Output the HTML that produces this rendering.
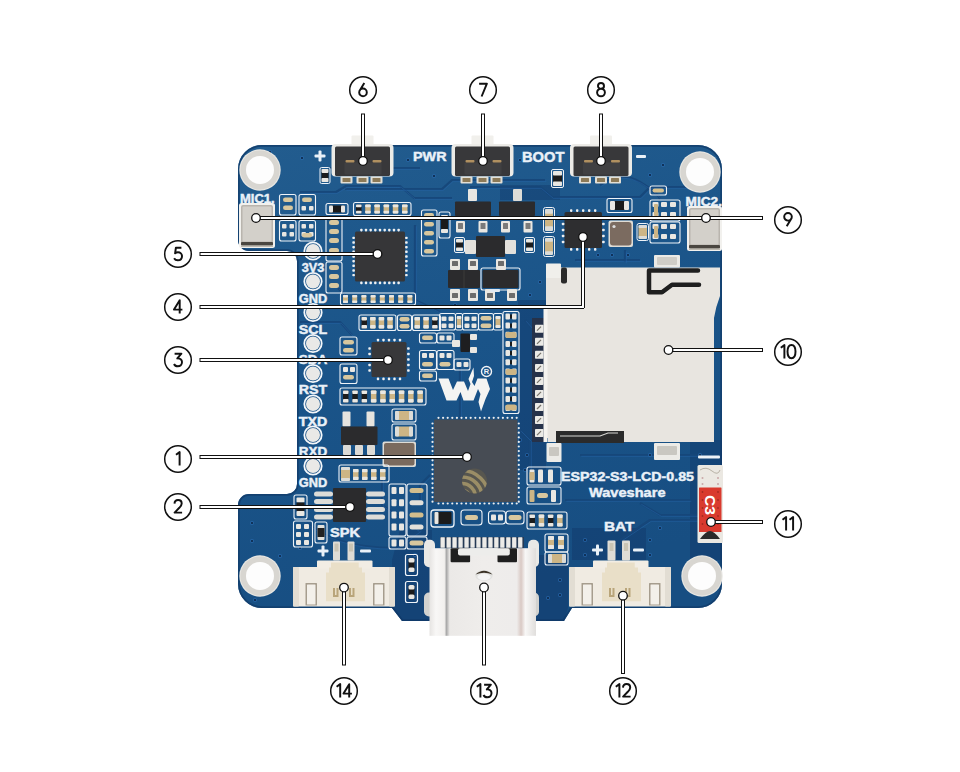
<!DOCTYPE html>
<html><head><meta charset="utf-8">
<style>
html,body{margin:0;padding:0;background:#fff;width:960px;height:772px;overflow:hidden}
svg{display:block;font-family:"Liberation Sans",sans-serif}
</style></head><body>
<svg width="960" height="772" viewBox="0 0 960 772">
<defs>
<linearGradient id="usbg" x1="0" x2="1" y1="0" y2="0">
<stop offset="0" stop-color="#e6e4e2"/><stop offset="0.06" stop-color="#f8f7f6"/><stop offset="0.14" stop-color="#f2f0ee"/><stop offset="0.16" stop-color="#a9a9a9"/><stop offset="0.19" stop-color="#ebe9e7"/><stop offset="0.5" stop-color="#efedeb"/><stop offset="0.82" stop-color="#eeeceb"/><stop offset="0.86" stop-color="#d9c9c4"/><stop offset="0.9" stop-color="#f8f7f6"/><stop offset="1" stop-color="#e0dedc"/>
</linearGradient>
</defs>
<rect width="960" height="772" fill="#fff"/>
<defs><linearGradient id="bgrad" x1="0" y1="0" x2="0.25" y2="1"><stop offset="0" stop-color="#225c8e"/><stop offset="0.5" stop-color="#1a5489"/><stop offset="1" stop-color="#174e82"/></linearGradient></defs>
<path d="M262,145 H698 A24,24 0 0 1 722,169 V584 A24,24 0 0 1 698,608 H572 L564,621 H402 L392,608 H262 A24,24 0 0 1 238,584 V505 A11,11 0 0 1 249,494 H287 A10,10 0 0 0 297,484 V261 A10,10 0 0 0 287,251 H249 A11,11 0 0 1 238,240 V169 A24,24 0 0 1 262,145 Z" fill="url(#bgrad)"/>
<defs><clipPath id="bclip"><path d="M262,145 H698 A24,24 0 0 1 722,169 V584 A24,24 0 0 1 698,608 H572 L564,621 H402 L392,608 H262 A24,24 0 0 1 238,584 V505 A11,11 0 0 1 249,494 H287 A10,10 0 0 0 297,484 V261 A10,10 0 0 0 287,251 H249 A11,11 0 0 1 238,240 V169 A24,24 0 0 1 262,145 Z"/></clipPath></defs>
<path d="M262,145 H698 A24,24 0 0 1 722,169 V584 A24,24 0 0 1 698,608 H572 L564,621 H402 L392,608 H262 A24,24 0 0 1 238,584 V505 A11,11 0 0 1 249,494 H287 A10,10 0 0 0 297,484 V261 A10,10 0 0 0 287,251 H249 A11,11 0 0 1 238,240 V169 A24,24 0 0 1 262,145 Z" fill="none" stroke="#123c6a" stroke-width="3.5" opacity="0.8" clip-path="url(#bclip)"/>
<path d="M518,300 H546 V470 H520 Z" fill="#0f3160" opacity="0.35"/>
<path d="M400,530 H432 V621 H402 L392,608 V560 Z" fill="#0f3160" opacity="0.35"/>
<path d="M536,555 H568 V608 L564,621 H536 Z" fill="#0f3160" opacity="0.35"/>
<path d="M572,528 H646 V560 H572 Z" fill="#0f3160" opacity="0.35"/>
<path d="M690,440 H722 V560 H690 Z" fill="#0f3160" opacity="0.35"/>
<path d="M500,185 H560 V200 H500 Z" fill="#0f3160" opacity="0.35"/>
<path d="M300,192 H336 L346,186 H400 L414,198 H452" fill="none" stroke="#164679" stroke-width="2.2" stroke-linejoin="round" opacity="0.9"/>
<path d="M345,189 H442 L452,180 H545" fill="none" stroke="#164679" stroke-width="2.2" stroke-linejoin="round" opacity="0.9"/>
<path d="M470,187 H540 L552,197 H640 L650,187 H700" fill="none" stroke="#164679" stroke-width="2.2" stroke-linejoin="round" opacity="0.9"/>
<path d="M338,288 L348,298" fill="none" stroke="#164679" stroke-width="2.2" stroke-linejoin="round" opacity="0.9"/>
<path d="M415,225 V300 L440,312" fill="none" stroke="#164679" stroke-width="2.2" stroke-linejoin="round" opacity="0.9"/>
<path d="M300,517 Q330,548 395,548 L420,530" fill="none" stroke="#164679" stroke-width="2.2" stroke-linejoin="round" opacity="0.9"/>
<path d="M525,320 L532,328 V420" fill="none" stroke="#164679" stroke-width="2.2" stroke-linejoin="round" opacity="0.9"/>
<path d="M520,430 L530,440 V470" fill="none" stroke="#164679" stroke-width="2.2" stroke-linejoin="round" opacity="0.9"/>
<path d="M565,500 H690" fill="none" stroke="#164679" stroke-width="2.2" stroke-linejoin="round" opacity="0.9"/>
<path d="M640,503 L660,515 H698" fill="none" stroke="#164679" stroke-width="2.2" stroke-linejoin="round" opacity="0.9"/>
<path d="M382,470 V505 L418,530" fill="none" stroke="#164679" stroke-width="2.2" stroke-linejoin="round" opacity="0.9"/>
<path d="M580,455 H700" fill="none" stroke="#164679" stroke-width="2.2" stroke-linejoin="round" opacity="0.9"/>
<path d="M600,185 Q620,170 640,182 T660,200" fill="none" stroke="#164679" stroke-width="2.2" stroke-linejoin="round" opacity="0.9"/>
<path d="M420,168 H330" fill="none" stroke="#164679" stroke-width="2.2" stroke-linejoin="round" opacity="0.9"/>
<path d="M575,260 H640" fill="none" stroke="#164679" stroke-width="2.2" stroke-linejoin="round" opacity="0.9"/>
<path d="M625,250 V262" fill="none" stroke="#164679" stroke-width="2.2" stroke-linejoin="round" opacity="0.9"/>
<path d="M352,335 L340,322 H300" fill="none" stroke="#164679" stroke-width="2.2" stroke-linejoin="round" opacity="0.9"/>
<path d="M430,475 L420,485 V500" fill="none" stroke="#164679" stroke-width="2.2" stroke-linejoin="round" opacity="0.9"/>
<path d="M460,430 V360" fill="none" stroke="#164679" stroke-width="2.2" stroke-linejoin="round" opacity="0.9"/>
<path d="M620,540 L650,520 H700" fill="none" stroke="#164679" stroke-width="2.2" stroke-linejoin="round" opacity="0.9"/>
<path d="M300,192 H336 L346,186 H400 L414,198 H452" fill="none" stroke="#2565a8" stroke-width="0.8" stroke-linejoin="round" opacity="0.6" transform="translate(1.3,1.3)"/>
<path d="M345,189 H442 L452,180 H545" fill="none" stroke="#2565a8" stroke-width="0.8" stroke-linejoin="round" opacity="0.6" transform="translate(1.3,1.3)"/>
<path d="M470,187 H540 L552,197 H640 L650,187 H700" fill="none" stroke="#2565a8" stroke-width="0.8" stroke-linejoin="round" opacity="0.6" transform="translate(1.3,1.3)"/>
<path d="M338,288 L348,298" fill="none" stroke="#2565a8" stroke-width="0.8" stroke-linejoin="round" opacity="0.6" transform="translate(1.3,1.3)"/>
<path d="M415,225 V300 L440,312" fill="none" stroke="#2565a8" stroke-width="0.8" stroke-linejoin="round" opacity="0.6" transform="translate(1.3,1.3)"/>
<path d="M300,517 Q330,548 395,548 L420,530" fill="none" stroke="#2565a8" stroke-width="0.8" stroke-linejoin="round" opacity="0.6" transform="translate(1.3,1.3)"/>
<path d="M525,320 L532,328 V420" fill="none" stroke="#2565a8" stroke-width="0.8" stroke-linejoin="round" opacity="0.6" transform="translate(1.3,1.3)"/>
<path d="M520,430 L530,440 V470" fill="none" stroke="#2565a8" stroke-width="0.8" stroke-linejoin="round" opacity="0.6" transform="translate(1.3,1.3)"/>
<path d="M565,500 H690" fill="none" stroke="#2565a8" stroke-width="0.8" stroke-linejoin="round" opacity="0.6" transform="translate(1.3,1.3)"/>
<path d="M640,503 L660,515 H698" fill="none" stroke="#2565a8" stroke-width="0.8" stroke-linejoin="round" opacity="0.6" transform="translate(1.3,1.3)"/>
<path d="M382,470 V505 L418,530" fill="none" stroke="#2565a8" stroke-width="0.8" stroke-linejoin="round" opacity="0.6" transform="translate(1.3,1.3)"/>
<path d="M580,455 H700" fill="none" stroke="#2565a8" stroke-width="0.8" stroke-linejoin="round" opacity="0.6" transform="translate(1.3,1.3)"/>
<path d="M600,185 Q620,170 640,182 T660,200" fill="none" stroke="#2565a8" stroke-width="0.8" stroke-linejoin="round" opacity="0.6" transform="translate(1.3,1.3)"/>
<path d="M420,168 H330" fill="none" stroke="#2565a8" stroke-width="0.8" stroke-linejoin="round" opacity="0.6" transform="translate(1.3,1.3)"/>
<path d="M575,260 H640" fill="none" stroke="#2565a8" stroke-width="0.8" stroke-linejoin="round" opacity="0.6" transform="translate(1.3,1.3)"/>
<path d="M625,250 V262" fill="none" stroke="#2565a8" stroke-width="0.8" stroke-linejoin="round" opacity="0.6" transform="translate(1.3,1.3)"/>
<path d="M352,335 L340,322 H300" fill="none" stroke="#2565a8" stroke-width="0.8" stroke-linejoin="round" opacity="0.6" transform="translate(1.3,1.3)"/>
<path d="M430,475 L420,485 V500" fill="none" stroke="#2565a8" stroke-width="0.8" stroke-linejoin="round" opacity="0.6" transform="translate(1.3,1.3)"/>
<path d="M460,430 V360" fill="none" stroke="#2565a8" stroke-width="0.8" stroke-linejoin="round" opacity="0.6" transform="translate(1.3,1.3)"/>
<path d="M620,540 L650,520 H700" fill="none" stroke="#2565a8" stroke-width="0.8" stroke-linejoin="round" opacity="0.6" transform="translate(1.3,1.3)"/>
<circle cx="252" cy="523" r="2" fill="#2b6cb0" opacity="0.7"/><circle cx="252" cy="523" r="1.1" fill="#0c2748"/>
<circle cx="252" cy="541" r="2" fill="#2b6cb0" opacity="0.7"/><circle cx="252" cy="541" r="1.1" fill="#0c2748"/>
<circle cx="270" cy="152" r="2" fill="#2b6cb0" opacity="0.7"/><circle cx="270" cy="152" r="1.1" fill="#0c2748"/>
<circle cx="302" cy="158" r="2" fill="#2b6cb0" opacity="0.7"/><circle cx="302" cy="158" r="1.1" fill="#0c2748"/>
<circle cx="408" cy="160" r="2" fill="#2b6cb0" opacity="0.7"/><circle cx="408" cy="160" r="1.1" fill="#0c2748"/>
<circle cx="434" cy="176" r="2" fill="#2b6cb0" opacity="0.7"/><circle cx="434" cy="176" r="1.1" fill="#0c2748"/>
<circle cx="520" cy="160" r="2" fill="#2b6cb0" opacity="0.7"/><circle cx="520" cy="160" r="1.1" fill="#0c2748"/>
<circle cx="650" cy="175" r="2" fill="#2b6cb0" opacity="0.7"/><circle cx="650" cy="175" r="1.1" fill="#0c2748"/>
<circle cx="663" cy="165" r="2" fill="#2b6cb0" opacity="0.7"/><circle cx="663" cy="165" r="1.1" fill="#0c2748"/>
<circle cx="598" cy="255" r="2" fill="#2b6cb0" opacity="0.7"/><circle cx="598" cy="255" r="1.1" fill="#0c2748"/>
<circle cx="612" cy="255" r="2" fill="#2b6cb0" opacity="0.7"/><circle cx="612" cy="255" r="1.1" fill="#0c2748"/>
<circle cx="628" cy="255" r="2" fill="#2b6cb0" opacity="0.7"/><circle cx="628" cy="255" r="1.1" fill="#0c2748"/>
<circle cx="530" cy="295" r="2" fill="#2b6cb0" opacity="0.7"/><circle cx="530" cy="295" r="1.1" fill="#0c2748"/>
<circle cx="540" cy="282" r="2" fill="#2b6cb0" opacity="0.7"/><circle cx="540" cy="282" r="1.1" fill="#0c2748"/>
<circle cx="520" cy="440" r="2" fill="#2b6cb0" opacity="0.7"/><circle cx="520" cy="440" r="1.1" fill="#0c2748"/>
<circle cx="527" cy="455" r="2" fill="#2b6cb0" opacity="0.7"/><circle cx="527" cy="455" r="1.1" fill="#0c2748"/>
<circle cx="525" cy="470" r="2" fill="#2b6cb0" opacity="0.7"/><circle cx="525" cy="470" r="1.1" fill="#0c2748"/>
<circle cx="650" cy="455" r="2" fill="#2b6cb0" opacity="0.7"/><circle cx="650" cy="455" r="1.1" fill="#0c2748"/>
<circle cx="700" cy="455" r="2" fill="#2b6cb0" opacity="0.7"/><circle cx="700" cy="455" r="1.1" fill="#0c2748"/>
<circle cx="255" cy="600" r="2" fill="#2b6cb0" opacity="0.7"/><circle cx="255" cy="600" r="1.1" fill="#0c2748"/>
<circle cx="300" cy="548" r="2" fill="#2b6cb0" opacity="0.7"/><circle cx="300" cy="548" r="1.1" fill="#0c2748"/>
<circle cx="280" cy="556" r="2" fill="#2b6cb0" opacity="0.7"/><circle cx="280" cy="556" r="1.1" fill="#0c2748"/>
<circle cx="415" cy="555" r="2" fill="#2b6cb0" opacity="0.7"/><circle cx="415" cy="555" r="1.1" fill="#0c2748"/>
<circle cx="548" cy="598" r="2" fill="#2b6cb0" opacity="0.7"/><circle cx="548" cy="598" r="1.1" fill="#0c2748"/>
<circle cx="560" cy="580" r="2" fill="#2b6cb0" opacity="0.7"/><circle cx="560" cy="580" r="1.1" fill="#0c2748"/>
<circle cx="560" cy="595" r="2" fill="#2b6cb0" opacity="0.7"/><circle cx="560" cy="595" r="1.1" fill="#0c2748"/>
<circle cx="585" cy="540" r="2" fill="#2b6cb0" opacity="0.7"/><circle cx="585" cy="540" r="1.1" fill="#0c2748"/>
<circle cx="585" cy="555" r="2" fill="#2b6cb0" opacity="0.7"/><circle cx="585" cy="555" r="1.1" fill="#0c2748"/>
<circle cx="650" cy="540" r="2" fill="#2b6cb0" opacity="0.7"/><circle cx="650" cy="540" r="1.1" fill="#0c2748"/>
<circle cx="650" cy="555" r="2" fill="#2b6cb0" opacity="0.7"/><circle cx="650" cy="555" r="1.1" fill="#0c2748"/>
<circle cx="660" cy="528" r="2" fill="#2b6cb0" opacity="0.7"/><circle cx="660" cy="528" r="1.1" fill="#0c2748"/>
<circle cx="455" cy="305" r="2" fill="#2b6cb0" opacity="0.7"/><circle cx="455" cy="305" r="1.1" fill="#0c2748"/>
<circle cx="483" cy="308" r="2" fill="#2b6cb0" opacity="0.7"/><circle cx="483" cy="308" r="1.1" fill="#0c2748"/>
<circle cx="640" cy="300" r="2" fill="#2b6cb0" opacity="0.7"/><circle cx="640" cy="300" r="1.1" fill="#0c2748"/>
<circle cx="260" cy="170" r="20.7" fill="#e8e7e3"/>
<circle cx="260" cy="170" r="19.6" fill="#d8d6d1"/>
<circle cx="260" cy="170" r="14" fill="#fdfdfd"/>
<circle cx="700" cy="172" r="20.7" fill="#e8e7e3"/>
<circle cx="700" cy="172" r="19.6" fill="#d8d6d1"/>
<circle cx="700" cy="172" r="14" fill="#fdfdfd"/>
<circle cx="260" cy="576" r="20.7" fill="#e8e7e3"/>
<circle cx="260" cy="576" r="19.6" fill="#d8d6d1"/>
<circle cx="260" cy="576" r="14" fill="#fdfdfd"/>
<circle cx="702" cy="576" r="20.7" fill="#e8e7e3"/>
<circle cx="702" cy="576" r="19.6" fill="#d8d6d1"/>
<circle cx="702" cy="576" r="14" fill="#fdfdfd"/>
<circle cx="313" cy="251" r="8.7" fill="none" stroke="#f4f7fa" stroke-width="1.8"/>
<circle cx="313" cy="251" r="7" fill="#e9e9e7"/>
<circle cx="313" cy="281.5" r="8.7" fill="none" stroke="#f4f7fa" stroke-width="1.8"/>
<circle cx="313" cy="281.5" r="7" fill="#e9e9e7"/>
<circle cx="313" cy="312.5" r="8.7" fill="none" stroke="#f4f7fa" stroke-width="1.8"/>
<circle cx="313" cy="312.5" r="7" fill="#e9e9e7"/>
<circle cx="313" cy="343.5" r="8.7" fill="none" stroke="#f4f7fa" stroke-width="1.8"/>
<circle cx="313" cy="343.5" r="7" fill="#e9e9e7"/>
<circle cx="313" cy="373.5" r="8.7" fill="none" stroke="#f4f7fa" stroke-width="1.8"/>
<circle cx="313" cy="373.5" r="7" fill="#e9e9e7"/>
<circle cx="313" cy="404" r="8.7" fill="none" stroke="#f4f7fa" stroke-width="1.8"/>
<circle cx="313" cy="404" r="7" fill="#e9e9e7"/>
<circle cx="313" cy="435" r="8.7" fill="none" stroke="#f4f7fa" stroke-width="1.8"/>
<circle cx="313" cy="435" r="7" fill="#e9e9e7"/>
<circle cx="313" cy="466" r="8.7" fill="none" stroke="#f4f7fa" stroke-width="1.8"/>
<circle cx="313" cy="466" r="7" fill="#e9e9e7"/>
<text x="313" y="271.5" font-size="12.3" font-weight="bold" fill="#eaf1f8" stroke="#eaf1f8" stroke-width="0.45" text-anchor="middle" textLength="22.5" lengthAdjust="spacingAndGlyphs">3V3</text>
<text x="313" y="302.5" font-size="12.3" font-weight="bold" fill="#eaf1f8" stroke="#eaf1f8" stroke-width="0.45" text-anchor="middle" textLength="28.5" lengthAdjust="spacingAndGlyphs">GND</text>
<text x="313" y="333.5" font-size="12.3" font-weight="bold" fill="#eaf1f8" stroke="#eaf1f8" stroke-width="0.45" text-anchor="middle" textLength="28.5" lengthAdjust="spacingAndGlyphs">SCL</text>
<text x="313" y="364" font-size="12.3" font-weight="bold" fill="#eaf1f8" stroke="#eaf1f8" stroke-width="0.45" text-anchor="middle" textLength="28.5" lengthAdjust="spacingAndGlyphs">SDA</text>
<text x="313" y="394" font-size="12.3" font-weight="bold" fill="#eaf1f8" stroke="#eaf1f8" stroke-width="0.45" text-anchor="middle" textLength="28.5" lengthAdjust="spacingAndGlyphs">RST</text>
<text x="313" y="425.5" font-size="12.3" font-weight="bold" fill="#eaf1f8" stroke="#eaf1f8" stroke-width="0.45" text-anchor="middle" textLength="28.5" lengthAdjust="spacingAndGlyphs">TXD</text>
<text x="313" y="456" font-size="12.3" font-weight="bold" fill="#eaf1f8" stroke="#eaf1f8" stroke-width="0.45" text-anchor="middle" textLength="28.5" lengthAdjust="spacingAndGlyphs">RXD</text>
<text x="313" y="486.5" font-size="12.3" font-weight="bold" fill="#eaf1f8" stroke="#eaf1f8" stroke-width="0.45" text-anchor="middle" textLength="28.5" lengthAdjust="spacingAndGlyphs">GND</text>
<text x="240" y="202.5" font-size="13" font-weight="bold" fill="#eaf1f8" stroke="#eaf1f8" stroke-width="0.45" text-anchor="start" >MIC1.</text>
<text x="685.5" y="205.5" font-size="12" font-weight="bold" fill="#eaf1f8" stroke="#eaf1f8" stroke-width="0.45" text-anchor="start" textLength="36.5" lengthAdjust="spacingAndGlyphs">MIC2.</text>
<text x="413" y="161" font-size="13.5" font-weight="bold" fill="#eaf1f8" stroke="#eaf1f8" stroke-width="0.45" text-anchor="start" textLength="33.5" lengthAdjust="spacingAndGlyphs">PWR</text>
<text x="522" y="161.5" font-size="14" font-weight="bold" fill="#eaf1f8" stroke="#eaf1f8" stroke-width="0.45" text-anchor="start" textLength="42.5" lengthAdjust="spacingAndGlyphs">BOOT</text>
<text x="330" y="537" font-size="13.3" font-weight="bold" fill="#eaf1f8" stroke="#eaf1f8" stroke-width="0.45" text-anchor="start" textLength="30" lengthAdjust="spacingAndGlyphs">SPK</text>
<text x="604" y="530.5" font-size="13.3" font-weight="bold" fill="#eaf1f8" stroke="#eaf1f8" stroke-width="0.45" text-anchor="start" textLength="30.5" lengthAdjust="spacingAndGlyphs">BAT</text>
<text x="561" y="481.3" font-size="12.6" font-weight="bold" fill="#eaf1f8" stroke="#eaf1f8" stroke-width="0.45" text-anchor="start" textLength="133" lengthAdjust="spacingAndGlyphs">ESP32-S3-LCD-0.85</text>
<text x="589" y="497.3" font-size="13.5" font-weight="bold" fill="#eaf1f8" stroke="#eaf1f8" stroke-width="0.45" text-anchor="start" textLength="76.5" lengthAdjust="spacingAndGlyphs">Waveshare</text>
<rect x="314.5" y="154.5" width="11.0" height="3.0" rx="1" fill="#eaf1f8" />
<rect x="318.5" y="150.5" width="3.0" height="11.0" rx="1" fill="#eaf1f8" />
<rect x="636.0" y="155.0" width="10.0" height="3.0" rx="1" fill="#eaf1f8" />
<rect x="317.5" y="549.5" width="11.0" height="3.0" rx="1" fill="#eaf1f8" />
<rect x="321.5" y="545.5" width="3.0" height="11.0" rx="1" fill="#eaf1f8" />
<rect x="360.0" y="549.5" width="11.0" height="3.0" rx="1" fill="#eaf1f8" />
<rect x="592.0" y="548.5" width="11.0" height="3.0" rx="1" fill="#eaf1f8" />
<rect x="596.0" y="544.5" width="3.0" height="11.0" rx="1" fill="#eaf1f8" />
<rect x="633.0" y="548.5" width="11.0" height="3.0" rx="1" fill="#eaf1f8" />
<rect x="351.5" y="135.5" width="22.0" height="10.0" rx="1" fill="#f1f0ec" />
<rect x="331.5" y="144.0" width="62.0" height="32.5" rx="4" fill="#ecebe7" />
<rect x="335.0" y="146.5" width="55.0" height="29.5" rx="1.5" fill="#38383a" />
<rect x="344.5" y="162.5" width="37.0" height="12.0" rx="1" fill="#404042" />
<rect x="345.5" y="160.0" width="9.0" height="2.5" rx="1" fill="#b09060" />
<rect x="372.5" y="160.0" width="9.0" height="2.5" rx="1" fill="#b09060" />
<rect x="340.5" y="176.5" width="12.0" height="7.0" rx="1" fill="#e2dfd6" />
<rect x="342.5" y="178.0" width="8.0" height="4.0" rx="0.5" fill="#8c7a58" />
<rect x="356.5" y="176.5" width="12.0" height="7.0" rx="1" fill="#e2dfd6" />
<rect x="358.5" y="178.0" width="8.0" height="4.0" rx="0.5" fill="#8c7a58" />
<rect x="370.5" y="176.5" width="12.0" height="7.0" rx="1" fill="#e2dfd6" />
<rect x="372.5" y="178.0" width="8.0" height="4.0" rx="0.5" fill="#8c7a58" />
<rect x="471.5" y="135.5" width="22.0" height="10.0" rx="1" fill="#f1f0ec" />
<rect x="451.5" y="144.0" width="62.0" height="32.5" rx="4" fill="#ecebe7" />
<rect x="455.0" y="146.5" width="55.0" height="29.5" rx="1.5" fill="#38383a" />
<rect x="464.5" y="162.5" width="37.0" height="12.0" rx="1" fill="#404042" />
<rect x="465.5" y="160.0" width="9.0" height="2.5" rx="1" fill="#b09060" />
<rect x="492.5" y="160.0" width="9.0" height="2.5" rx="1" fill="#b09060" />
<rect x="460.5" y="176.5" width="12.0" height="7.0" rx="1" fill="#e2dfd6" />
<rect x="462.5" y="178.0" width="8.0" height="4.0" rx="0.5" fill="#8c7a58" />
<rect x="476.5" y="176.5" width="12.0" height="7.0" rx="1" fill="#e2dfd6" />
<rect x="478.5" y="178.0" width="8.0" height="4.0" rx="0.5" fill="#8c7a58" />
<rect x="490.5" y="176.5" width="12.0" height="7.0" rx="1" fill="#e2dfd6" />
<rect x="492.5" y="178.0" width="8.0" height="4.0" rx="0.5" fill="#8c7a58" />
<rect x="590.0" y="135.5" width="22.0" height="10.0" rx="1" fill="#f1f0ec" />
<rect x="570.0" y="144.0" width="62.0" height="32.5" rx="4" fill="#ecebe7" />
<rect x="573.5" y="146.5" width="55.0" height="29.5" rx="1.5" fill="#38383a" />
<rect x="583.0" y="162.5" width="37.0" height="12.0" rx="1" fill="#404042" />
<rect x="584.0" y="160.0" width="9.0" height="2.5" rx="1" fill="#b09060" />
<rect x="611.0" y="160.0" width="9.0" height="2.5" rx="1" fill="#b09060" />
<rect x="579.0" y="176.5" width="12.0" height="7.0" rx="1" fill="#e2dfd6" />
<rect x="581.0" y="178.0" width="8.0" height="4.0" rx="0.5" fill="#8c7a58" />
<rect x="595.0" y="176.5" width="12.0" height="7.0" rx="1" fill="#e2dfd6" />
<rect x="597.0" y="178.0" width="8.0" height="4.0" rx="0.5" fill="#8c7a58" />
<rect x="609.0" y="176.5" width="12.0" height="7.0" rx="1" fill="#e2dfd6" />
<rect x="611.0" y="178.0" width="8.0" height="4.0" rx="0.5" fill="#8c7a58" />
<rect x="239.0" y="203.0" width="36.0" height="45.0" rx="2.5" fill="#f2f1ee" />
<rect x="241.0" y="205.0" width="32.0" height="41.0" rx="2" fill="#b9b5ae" />
<rect x="242.5" y="206.5" width="29.0" height="35.0" rx="1" fill="#d3d0ca" />
<rect x="241.0" y="242.0" width="32.0" height="3.5" rx="1" fill="#4a4640" />
<rect x="241.0" y="245.5" width="32.0" height="1.5" rx="0.5" fill="#bdb9b0" />
<rect x="687.0" y="206.0" width="35.0" height="45.0" rx="2.5" fill="#f2f1ee" />
<rect x="689.0" y="208.0" width="31.0" height="41.0" rx="2" fill="#b9b5ae" />
<rect x="690.5" y="209.5" width="28.0" height="35.0" rx="1" fill="#d3d0ca" />
<rect x="689.0" y="245.0" width="31.0" height="3.5" rx="1" fill="#4a4640" />
<rect x="689.0" y="248.5" width="31.0" height="1.5" rx="0.5" fill="#bdb9b0" />
<rect x="320.0" y="167.5" width="10.0" height="16.0" rx="1.5" fill="none" stroke="#eef3f8" stroke-width="1"/>
<rect x="321.5" y="169.0" width="7.0" height="13.0" rx="1" fill="#1c1c1c" />
<rect x="321.5" y="169.0" width="7.0" height="3.9" rx="0.8" fill="#e9e7e2" />
<rect x="321.5" y="178.1" width="7.0" height="3.9" rx="0.8" fill="#e9e7e2" />
<rect x="279.5" y="194.5" width="16.5" height="20.5" rx="2" fill="none" stroke="#eef3f8" stroke-width="1.1"/>
<rect x="279.5" y="220.5" width="16.5" height="20.5" rx="2" fill="none" stroke="#eef3f8" stroke-width="1.1"/>
<rect x="299.0" y="194.5" width="16.5" height="20.5" rx="2" fill="none" stroke="#eef3f8" stroke-width="1.1"/>
<rect x="299.0" y="220.5" width="16.5" height="20.5" rx="2" fill="none" stroke="#eef3f8" stroke-width="1.1"/>
<rect x="283.0" y="197.5" width="10.0" height="4.5" rx="2.25" fill="#d8c79e" />
<rect x="283.0" y="205.5" width="10.0" height="4.5" rx="2.25" fill="#d8c79e" />
<rect x="302.0" y="197.5" width="10.0" height="4.5" rx="2.25" fill="#d8c79e" />
<rect x="301.5" y="206.0" width="4.5" height="4.5" rx="1" fill="#e9e7e2" />
<rect x="309.0" y="206.0" width="4.5" height="4.5" rx="1" fill="#e9e7e2" />
<rect x="282.0" y="224.0" width="4.5" height="4.5" rx="1" fill="#e9e7e2" />
<rect x="289.5" y="224.0" width="4.5" height="4.5" rx="1" fill="#e9e7e2" />
<rect x="282.0" y="232.0" width="4.5" height="4.5" rx="1" fill="#e9e7e2" />
<rect x="289.5" y="232.0" width="4.5" height="4.5" rx="1" fill="#e9e7e2" />
<rect x="301.5" y="224.0" width="4.5" height="4.5" rx="1" fill="#e9e7e2" />
<rect x="309.0" y="224.0" width="4.5" height="4.5" rx="1" fill="#e9e7e2" />
<rect x="301.5" y="232.0" width="4.5" height="4.5" rx="1" fill="#e9e7e2" />
<rect x="309.0" y="232.0" width="4.5" height="4.5" rx="1" fill="#e9e7e2" />
<rect x="302.0" y="233.0" width="10.0" height="4.5" rx="2.25" fill="#d8c79e" />
<rect x="326.0" y="203.5" width="22.0" height="11.0" rx="2" fill="none" stroke="#eef3f8" stroke-width="1.1"/>
<rect x="329.0" y="205.5" width="16.0" height="7.0" rx="1" fill="#1a1a1a" />
<rect x="329.0" y="205.5" width="4.0" height="7.0" rx="1" fill="#e9e7e2" />
<rect x="341.0" y="205.5" width="4.0" height="7.0" rx="1" fill="#e9e7e2" />
<rect x="326.0" y="217.0" width="16.0" height="44.0" rx="2" fill="none" stroke="#eef3f8" stroke-width="1.1"/>
<rect x="329.0" y="220.0" width="10.0" height="5.0" rx="2.5" fill="#d8c79e" />
<rect x="329.0" y="229.0" width="10.0" height="5.0" rx="2.5" fill="#d8c79e" />
<rect x="329.0" y="238.0" width="10.0" height="5.0" rx="2.5" fill="#d8c79e" />
<rect x="329.0" y="248.0" width="10.0" height="5.0" rx="2.5" fill="#d8c79e" />
<rect x="353.5" y="202.5" width="57.5" height="13.0" rx="2" fill="none" stroke="#eef3f8" stroke-width="1.1"/>
<rect x="356.0" y="204.5" width="5.5" height="9.0" rx="1" fill="#1a1a1a" />
<rect x="356.0" y="204.5" width="5.5" height="2.7" rx="0.8" fill="#e9e7e2" />
<rect x="356.0" y="210.8" width="5.5" height="2.7" rx="0.8" fill="#e9e7e2" />
<rect x="365.2" y="204.5" width="5.5" height="9.0" rx="1" fill="#cdb585" />
<rect x="365.2" y="204.5" width="5.5" height="2.7" rx="0.8" fill="#e9e7e2" />
<rect x="365.2" y="210.8" width="5.5" height="2.7" rx="0.8" fill="#e9e7e2" />
<rect x="374.4" y="204.5" width="5.5" height="9.0" rx="1" fill="#cdb585" />
<rect x="374.4" y="204.5" width="5.5" height="2.7" rx="0.8" fill="#e9e7e2" />
<rect x="374.4" y="210.8" width="5.5" height="2.7" rx="0.8" fill="#e9e7e2" />
<rect x="383.6" y="204.5" width="5.5" height="9.0" rx="1" fill="#cdb585" />
<rect x="383.6" y="204.5" width="5.5" height="2.7" rx="0.8" fill="#e9e7e2" />
<rect x="383.6" y="210.8" width="5.5" height="2.7" rx="0.8" fill="#e9e7e2" />
<rect x="392.8" y="204.5" width="5.5" height="9.0" rx="1" fill="#cdb585" />
<rect x="392.8" y="204.5" width="5.5" height="2.7" rx="0.8" fill="#e9e7e2" />
<rect x="392.8" y="210.8" width="5.5" height="2.7" rx="0.8" fill="#e9e7e2" />
<rect x="402.0" y="204.5" width="5.5" height="9.0" rx="1" fill="#cdb585" />
<rect x="402.0" y="204.5" width="5.5" height="2.7" rx="0.8" fill="#e9e7e2" />
<rect x="402.0" y="210.8" width="5.5" height="2.7" rx="0.8" fill="#e9e7e2" />
<rect x="355.0" y="231.5" width="50.0" height="50.0" rx="1.5" fill="#363638" />
<rect x="360.2" y="228.8" width="2.4" height="2.6" rx="0.8" fill="#f0f0f0"/>
<rect x="360.2" y="281.6" width="2.4" height="2.6" rx="0.8" fill="#f0f0f0"/>
<rect x="364.8" y="228.8" width="2.4" height="2.6" rx="0.8" fill="#f0f0f0"/>
<rect x="364.8" y="281.6" width="2.4" height="2.6" rx="0.8" fill="#f0f0f0"/>
<rect x="369.5" y="228.8" width="2.4" height="2.6" rx="0.8" fill="#f0f0f0"/>
<rect x="369.5" y="281.6" width="2.4" height="2.6" rx="0.8" fill="#f0f0f0"/>
<rect x="374.1" y="228.8" width="2.4" height="2.6" rx="0.8" fill="#f0f0f0"/>
<rect x="374.1" y="281.6" width="2.4" height="2.6" rx="0.8" fill="#f0f0f0"/>
<rect x="378.8" y="228.8" width="2.4" height="2.6" rx="0.8" fill="#f0f0f0"/>
<rect x="378.8" y="281.6" width="2.4" height="2.6" rx="0.8" fill="#f0f0f0"/>
<rect x="383.5" y="228.8" width="2.4" height="2.6" rx="0.8" fill="#f0f0f0"/>
<rect x="383.5" y="281.6" width="2.4" height="2.6" rx="0.8" fill="#f0f0f0"/>
<rect x="388.1" y="228.8" width="2.4" height="2.6" rx="0.8" fill="#f0f0f0"/>
<rect x="388.1" y="281.6" width="2.4" height="2.6" rx="0.8" fill="#f0f0f0"/>
<rect x="392.8" y="228.8" width="2.4" height="2.6" rx="0.8" fill="#f0f0f0"/>
<rect x="392.8" y="281.6" width="2.4" height="2.6" rx="0.8" fill="#f0f0f0"/>
<rect x="397.4" y="228.8" width="2.4" height="2.6" rx="0.8" fill="#f0f0f0"/>
<rect x="397.4" y="281.6" width="2.4" height="2.6" rx="0.8" fill="#f0f0f0"/>
<rect x="352.3" y="236.7" width="2.6" height="2.4" rx="0.8" fill="#f0f0f0"/>
<rect x="405.1" y="236.7" width="2.6" height="2.4" rx="0.8" fill="#f0f0f0"/>
<rect x="352.3" y="241.3" width="2.6" height="2.4" rx="0.8" fill="#f0f0f0"/>
<rect x="405.1" y="241.3" width="2.6" height="2.4" rx="0.8" fill="#f0f0f0"/>
<rect x="352.3" y="246.0" width="2.6" height="2.4" rx="0.8" fill="#f0f0f0"/>
<rect x="405.1" y="246.0" width="2.6" height="2.4" rx="0.8" fill="#f0f0f0"/>
<rect x="352.3" y="250.6" width="2.6" height="2.4" rx="0.8" fill="#f0f0f0"/>
<rect x="405.1" y="250.6" width="2.6" height="2.4" rx="0.8" fill="#f0f0f0"/>
<rect x="352.3" y="255.3" width="2.6" height="2.4" rx="0.8" fill="#f0f0f0"/>
<rect x="405.1" y="255.3" width="2.6" height="2.4" rx="0.8" fill="#f0f0f0"/>
<rect x="352.3" y="260.0" width="2.6" height="2.4" rx="0.8" fill="#f0f0f0"/>
<rect x="405.1" y="260.0" width="2.6" height="2.4" rx="0.8" fill="#f0f0f0"/>
<rect x="352.3" y="264.6" width="2.6" height="2.4" rx="0.8" fill="#f0f0f0"/>
<rect x="405.1" y="264.6" width="2.6" height="2.4" rx="0.8" fill="#f0f0f0"/>
<rect x="352.3" y="269.3" width="2.6" height="2.4" rx="0.8" fill="#f0f0f0"/>
<rect x="405.1" y="269.3" width="2.6" height="2.4" rx="0.8" fill="#f0f0f0"/>
<rect x="352.3" y="273.9" width="2.6" height="2.4" rx="0.8" fill="#f0f0f0"/>
<rect x="405.1" y="273.9" width="2.6" height="2.4" rx="0.8" fill="#f0f0f0"/>
<rect x="455.0" y="201.5" width="36.0" height="14.5" rx="1" fill="#2b2b2d" />
<rect x="499.0" y="201.5" width="36.0" height="14.5" rx="1" fill="#2b2b2d" />
<rect x="468.0" y="189.0" width="9.0" height="12.0" rx="1" fill="#e9e7e2" />
<rect x="513.0" y="189.0" width="9.0" height="12.0" rx="1" fill="#dedcd7" />
<rect x="456.0" y="221.0" width="9.0" height="11.5" rx="1" fill="#e9e7e2" />
<rect x="458.0" y="223.0" width="5.0" height="6.0" rx="0.5" fill="#7a7a7a" />
<rect x="478.5" y="221.0" width="9.0" height="11.5" rx="1" fill="#e9e7e2" />
<rect x="480.5" y="223.0" width="5.0" height="6.0" rx="0.5" fill="#7a7a7a" />
<rect x="501.0" y="221.0" width="9.0" height="11.5" rx="1" fill="#e9e7e2" />
<rect x="503.0" y="223.0" width="5.0" height="6.0" rx="0.5" fill="#7a7a7a" />
<rect x="523.5" y="221.0" width="9.0" height="11.5" rx="1" fill="#e9e7e2" />
<rect x="525.5" y="223.0" width="5.0" height="6.0" rx="0.5" fill="#7a7a7a" />
<rect x="465.0" y="240.0" width="11.0" height="14.0" rx="1" fill="#e3e1dc" />
<rect x="505.0" y="240.0" width="11.0" height="14.0" rx="1" fill="#e3e1dc" />
<rect x="476.0" y="236.0" width="29.0" height="21.0" rx="1" fill="#2b2b2d" />
<rect x="421.5" y="210.0" width="15.5" height="46.0" rx="2" fill="none" stroke="#eef3f8" stroke-width="1.1"/>
<rect x="424.0" y="213.0" width="10.0" height="4.5" rx="2.25" fill="#d8c79e" />
<rect x="424.0" y="222.0" width="10.0" height="4.5" rx="2.25" fill="#d8c79e" />
<rect x="424.0" y="231.0" width="10.0" height="4.5" rx="2.25" fill="#d8c79e" />
<rect x="424.0" y="240.0" width="10.0" height="4.5" rx="2.25" fill="#d8c79e" />
<rect x="424.0" y="249.0" width="10.0" height="4.5" rx="2.25" fill="#d8c79e" />
<rect x="439.0" y="212.0" width="11.0" height="26.0" rx="2" fill="none" stroke="#eef3f8" stroke-width="1.1"/>
<rect x="441.0" y="215.0" width="7.0" height="4.0" rx="1" fill="#e9e7e2" />
<rect x="441.0" y="229.0" width="7.0" height="4.0" rx="1" fill="#e9e7e2" />
<rect x="441.0" y="219.0" width="7.0" height="10.0" rx="0.5" fill="#1a1a1a" />
<rect x="454.5" y="237.5" width="10.0" height="15.0" rx="1.5" fill="none" stroke="#eef3f8" stroke-width="1"/>
<rect x="456.0" y="239.0" width="7.0" height="12.0" rx="1" fill="#1c1c1c" />
<rect x="456.0" y="239.0" width="7.0" height="3.6" rx="0.8" fill="#e9e7e2" />
<rect x="456.0" y="247.4" width="7.0" height="3.6" rx="0.8" fill="#e9e7e2" />
<rect x="524.5" y="237.5" width="10.0" height="15.0" rx="1.5" fill="none" stroke="#eef3f8" stroke-width="1"/>
<rect x="526.0" y="239.0" width="7.0" height="12.0" rx="1" fill="#1c1c1c" />
<rect x="526.0" y="239.0" width="7.0" height="3.6" rx="0.8" fill="#e9e7e2" />
<rect x="526.0" y="247.4" width="7.0" height="3.6" rx="0.8" fill="#e9e7e2" />
<rect x="543.5" y="236.5" width="11.0" height="20.0" rx="2" fill="none" stroke="#eef3f8" stroke-width="1"/>
<rect x="545.0" y="238.0" width="8.0" height="17.0" rx="2" fill="#cdb585" />
<rect x="545.0" y="238.0" width="8.0" height="3.7" rx="1" fill="#dcdcd8" />
<rect x="545.0" y="251.3" width="8.0" height="3.7" rx="1" fill="#dcdcd8" />
<rect x="543.5" y="207.5" width="11.0" height="25.0" rx="2" fill="none" stroke="#eef3f8" stroke-width="1"/>
<rect x="545.0" y="209.0" width="8.0" height="22.0" rx="2" fill="#cdb585" />
<rect x="545.0" y="209.0" width="8.0" height="4.8" rx="1" fill="#dcdcd8" />
<rect x="545.0" y="226.2" width="8.0" height="4.8" rx="1" fill="#dcdcd8" />
<rect x="551.5" y="169.5" width="12.0" height="18.0" rx="1.5" fill="none" stroke="#eef3f8" stroke-width="1"/>
<rect x="553.0" y="171.0" width="9.0" height="15.0" rx="1" fill="#1c1c1c" />
<rect x="553.0" y="171.0" width="9.0" height="4.5" rx="0.8" fill="#e9e7e2" />
<rect x="553.0" y="181.5" width="9.0" height="4.5" rx="0.8" fill="#e9e7e2" />
<rect x="564.5" y="212.0" width="37.5" height="36.0" rx="1.5" fill="#2e2e30" />
<rect x="570.0" y="209.3" width="2.4" height="2.6" rx="0.8" fill="#f0f0f0"/>
<rect x="570.0" y="248.1" width="2.4" height="2.6" rx="0.8" fill="#f0f0f0"/>
<rect x="576.0" y="209.3" width="2.4" height="2.6" rx="0.8" fill="#f0f0f0"/>
<rect x="576.0" y="248.1" width="2.4" height="2.6" rx="0.8" fill="#f0f0f0"/>
<rect x="582.0" y="209.3" width="2.4" height="2.6" rx="0.8" fill="#f0f0f0"/>
<rect x="582.0" y="248.1" width="2.4" height="2.6" rx="0.8" fill="#f0f0f0"/>
<rect x="588.0" y="209.3" width="2.4" height="2.6" rx="0.8" fill="#f0f0f0"/>
<rect x="588.0" y="248.1" width="2.4" height="2.6" rx="0.8" fill="#f0f0f0"/>
<rect x="594.0" y="209.3" width="2.4" height="2.6" rx="0.8" fill="#f0f0f0"/>
<rect x="594.0" y="248.1" width="2.4" height="2.6" rx="0.8" fill="#f0f0f0"/>
<rect x="561.8" y="216.8" width="2.6" height="2.4" rx="0.8" fill="#f0f0f0"/>
<rect x="602.1" y="216.8" width="2.6" height="2.4" rx="0.8" fill="#f0f0f0"/>
<rect x="561.8" y="222.8" width="2.6" height="2.4" rx="0.8" fill="#f0f0f0"/>
<rect x="602.1" y="222.8" width="2.6" height="2.4" rx="0.8" fill="#f0f0f0"/>
<rect x="561.8" y="228.8" width="2.6" height="2.4" rx="0.8" fill="#f0f0f0"/>
<rect x="602.1" y="228.8" width="2.6" height="2.4" rx="0.8" fill="#f0f0f0"/>
<rect x="561.8" y="234.8" width="2.6" height="2.4" rx="0.8" fill="#f0f0f0"/>
<rect x="602.1" y="234.8" width="2.6" height="2.4" rx="0.8" fill="#f0f0f0"/>
<rect x="561.8" y="240.8" width="2.6" height="2.4" rx="0.8" fill="#f0f0f0"/>
<rect x="602.1" y="240.8" width="2.6" height="2.4" rx="0.8" fill="#f0f0f0"/>
<rect x="608.5" y="220.5" width="24.5" height="26.5" rx="2" fill="#e0ddd6" />
<rect x="610.0" y="222.0" width="21.5" height="23.5" rx="3" fill="#7b6b60" />
<circle cx="614" cy="226.5" r="1.6" fill="#ddd"/>
<rect x="637.0" y="223.5" width="11.5" height="17.0" rx="2" fill="none" stroke="#eef3f8" stroke-width="1"/>
<rect x="638.5" y="225.0" width="8.5" height="14.0" rx="2" fill="#cdb585" />
<rect x="638.5" y="225.0" width="8.5" height="3.1" rx="1" fill="#dcdcd8" />
<rect x="638.5" y="235.9" width="8.5" height="3.1" rx="1" fill="#dcdcd8" />
<rect x="607.0" y="198.5" width="25.0" height="14.0" rx="2" fill="none" stroke="#eef3f8" stroke-width="1.1"/>
<rect x="610.0" y="201.0" width="19.0" height="9.0" rx="1" fill="#1a1a1a" />
<rect x="610.0" y="201.0" width="5.0" height="9.0" rx="1" fill="#e9e7e2" />
<rect x="624.0" y="201.0" width="5.0" height="9.0" rx="1" fill="#e9e7e2" />
<rect x="650.0" y="186.0" width="16.5" height="9.0" rx="2" fill="none" stroke="#eef3f8" stroke-width="1.1"/>
<rect x="652.5" y="188.5" width="11.5" height="4.0" rx="2.0" fill="#d6c08e" />
<rect x="650.0" y="200.0" width="30.0" height="21.0" rx="2" fill="none" stroke="#eef3f8" stroke-width="1.1"/>
<rect x="650.0" y="222.0" width="30.0" height="21.0" rx="2" fill="none" stroke="#eef3f8" stroke-width="1.1"/>
<rect x="652.5" y="202.0" width="6.0" height="5.0" rx="1" fill="#e9e7e2" />
<rect x="661.0" y="202.0" width="6.0" height="5.0" rx="1" fill="#e9e7e2" />
<rect x="670.0" y="202.0" width="6.0" height="5.0" rx="1" fill="#e9e7e2" />
<rect x="652.5" y="212.0" width="6.0" height="5.0" rx="1" fill="#e9e7e2" />
<rect x="661.0" y="212.0" width="6.0" height="5.0" rx="1" fill="#e9e7e2" />
<rect x="670.0" y="212.0" width="6.0" height="5.0" rx="1" fill="#e9e7e2" />
<rect x="652.5" y="224.0" width="6.0" height="5.0" rx="1" fill="#e9e7e2" />
<rect x="661.0" y="224.0" width="6.0" height="5.0" rx="1" fill="#e9e7e2" />
<rect x="670.0" y="224.0" width="6.0" height="5.0" rx="1" fill="#e9e7e2" />
<rect x="652.5" y="234.0" width="6.0" height="5.0" rx="1" fill="#e9e7e2" />
<rect x="661.0" y="234.0" width="6.0" height="5.0" rx="1" fill="#e9e7e2" />
<rect x="670.0" y="234.0" width="6.0" height="5.0" rx="1" fill="#e9e7e2" />
<rect x="654.0" y="204.0" width="4.0" height="12.0" rx="1" fill="#cdb585" />
<rect x="654.0" y="226.0" width="4.0" height="12.0" rx="1" fill="#cdb585" />
<rect x="326.0" y="262.0" width="16.0" height="31.0" rx="2" fill="none" stroke="#eef3f8" stroke-width="1.1"/>
<rect x="329.0" y="265.0" width="10.0" height="5.0" rx="2.5" fill="#d8c79e" />
<rect x="329.0" y="274.0" width="10.0" height="5.0" rx="2.5" fill="#d8c79e" />
<rect x="329.0" y="283.0" width="10.0" height="5.0" rx="2.5" fill="#d8c79e" />
<rect x="340.5" y="293.0" width="75.0" height="12.0" rx="2" fill="none" stroke="#eef3f8" stroke-width="1.1"/>
<rect x="343.0" y="295.0" width="5.0" height="8.0" rx="1" fill="#cdb585" />
<rect x="343.0" y="295.0" width="5.0" height="2.4" rx="0.8" fill="#e9e7e2" />
<rect x="343.0" y="300.6" width="5.0" height="2.4" rx="0.8" fill="#e9e7e2" />
<rect x="352.2" y="295.0" width="5.0" height="8.0" rx="1" fill="#cdb585" />
<rect x="352.2" y="295.0" width="5.0" height="2.4" rx="0.8" fill="#e9e7e2" />
<rect x="352.2" y="300.6" width="5.0" height="2.4" rx="0.8" fill="#e9e7e2" />
<rect x="361.4" y="295.0" width="5.0" height="8.0" rx="1" fill="#cdb585" />
<rect x="361.4" y="295.0" width="5.0" height="2.4" rx="0.8" fill="#e9e7e2" />
<rect x="361.4" y="300.6" width="5.0" height="2.4" rx="0.8" fill="#e9e7e2" />
<rect x="370.6" y="295.0" width="5.0" height="8.0" rx="1" fill="#cdb585" />
<rect x="370.6" y="295.0" width="5.0" height="2.4" rx="0.8" fill="#e9e7e2" />
<rect x="370.6" y="300.6" width="5.0" height="2.4" rx="0.8" fill="#e9e7e2" />
<rect x="379.8" y="295.0" width="5.0" height="8.0" rx="1" fill="#cdb585" />
<rect x="379.8" y="295.0" width="5.0" height="2.4" rx="0.8" fill="#e9e7e2" />
<rect x="379.8" y="300.6" width="5.0" height="2.4" rx="0.8" fill="#e9e7e2" />
<rect x="389.0" y="295.0" width="5.0" height="8.0" rx="1" fill="#cdb585" />
<rect x="389.0" y="295.0" width="5.0" height="2.4" rx="0.8" fill="#e9e7e2" />
<rect x="389.0" y="300.6" width="5.0" height="2.4" rx="0.8" fill="#e9e7e2" />
<rect x="398.2" y="295.0" width="5.0" height="8.0" rx="1" fill="#cdb585" />
<rect x="398.2" y="295.0" width="5.0" height="2.4" rx="0.8" fill="#e9e7e2" />
<rect x="398.2" y="300.6" width="5.0" height="2.4" rx="0.8" fill="#e9e7e2" />
<rect x="407.4" y="295.0" width="5.0" height="8.0" rx="1" fill="#cdb585" />
<rect x="407.4" y="295.0" width="5.0" height="2.4" rx="0.8" fill="#e9e7e2" />
<rect x="407.4" y="300.6" width="5.0" height="2.4" rx="0.8" fill="#e9e7e2" />
<rect x="359.0" y="315.0" width="37.0" height="15.5" rx="2" fill="none" stroke="#eef3f8" stroke-width="1.1"/>
<rect x="361.5" y="317.0" width="5.5" height="11.5" rx="1" fill="#1c1c1c" />
<rect x="361.5" y="317.0" width="5.5" height="3.4" rx="0.8" fill="#e9e7e2" />
<rect x="361.5" y="325.1" width="5.5" height="3.4" rx="0.8" fill="#e9e7e2" />
<rect x="370.1" y="317.0" width="5.5" height="11.5" rx="1" fill="#cdb585" />
<rect x="370.1" y="317.0" width="5.5" height="3.4" rx="0.8" fill="#e9e7e2" />
<rect x="370.1" y="325.1" width="5.5" height="3.4" rx="0.8" fill="#e9e7e2" />
<rect x="378.7" y="317.0" width="5.5" height="11.5" rx="1" fill="#cdb585" />
<rect x="378.7" y="317.0" width="5.5" height="3.4" rx="0.8" fill="#e9e7e2" />
<rect x="378.7" y="325.1" width="5.5" height="3.4" rx="0.8" fill="#e9e7e2" />
<rect x="387.3" y="317.0" width="5.5" height="11.5" rx="1" fill="#cdb585" />
<rect x="387.3" y="317.0" width="5.5" height="3.4" rx="0.8" fill="#e9e7e2" />
<rect x="387.3" y="325.1" width="5.5" height="3.4" rx="0.8" fill="#e9e7e2" />
<rect x="397.5" y="315.0" width="14.0" height="15.5" rx="2" fill="none" stroke="#eef3f8" stroke-width="1.1"/>
<rect x="399.5" y="317.0" width="10.0" height="4.5" rx="2.25" fill="#d8c79e" />
<rect x="399.5" y="324.0" width="10.0" height="4.5" rx="2.25" fill="#d8c79e" />
<rect x="412.5" y="315.0" width="28.0" height="15.5" rx="2" fill="none" stroke="#eef3f8" stroke-width="1.1"/>
<rect x="414.5" y="317.0" width="5.5" height="11.5" rx="1" fill="#cdb585" />
<rect x="414.5" y="317.0" width="5.5" height="3.4" rx="0.8" fill="#e9e7e2" />
<rect x="414.5" y="325.1" width="5.5" height="3.4" rx="0.8" fill="#e9e7e2" />
<rect x="423.3" y="317.0" width="5.5" height="11.5" rx="1" fill="#cdb585" />
<rect x="423.3" y="317.0" width="5.5" height="3.4" rx="0.8" fill="#e9e7e2" />
<rect x="423.3" y="325.1" width="5.5" height="3.4" rx="0.8" fill="#e9e7e2" />
<rect x="432.1" y="317.0" width="5.5" height="11.5" rx="1" fill="#1c1c1c" />
<rect x="432.1" y="317.0" width="5.5" height="3.4" rx="0.8" fill="#e9e7e2" />
<rect x="432.1" y="325.1" width="5.5" height="3.4" rx="0.8" fill="#e9e7e2" />
<rect x="371.5" y="342.0" width="35.0" height="35.0" rx="1.5" fill="#38383a" />
<rect x="376.8" y="338.8" width="2.4" height="2.6" rx="0.8" fill="#f0f0f0"/>
<rect x="376.8" y="377.6" width="2.4" height="2.6" rx="0.8" fill="#f0f0f0"/>
<rect x="382.3" y="338.8" width="2.4" height="2.6" rx="0.8" fill="#f0f0f0"/>
<rect x="382.3" y="377.6" width="2.4" height="2.6" rx="0.8" fill="#f0f0f0"/>
<rect x="387.8" y="338.8" width="2.4" height="2.6" rx="0.8" fill="#f0f0f0"/>
<rect x="387.8" y="377.6" width="2.4" height="2.6" rx="0.8" fill="#f0f0f0"/>
<rect x="393.3" y="338.8" width="2.4" height="2.6" rx="0.8" fill="#f0f0f0"/>
<rect x="393.3" y="377.6" width="2.4" height="2.6" rx="0.8" fill="#f0f0f0"/>
<rect x="398.8" y="338.8" width="2.4" height="2.6" rx="0.8" fill="#f0f0f0"/>
<rect x="398.8" y="377.6" width="2.4" height="2.6" rx="0.8" fill="#f0f0f0"/>
<rect x="368.3" y="347.3" width="2.6" height="2.4" rx="0.8" fill="#f0f0f0"/>
<rect x="407.1" y="347.3" width="2.6" height="2.4" rx="0.8" fill="#f0f0f0"/>
<rect x="368.3" y="352.8" width="2.6" height="2.4" rx="0.8" fill="#f0f0f0"/>
<rect x="407.1" y="352.8" width="2.6" height="2.4" rx="0.8" fill="#f0f0f0"/>
<rect x="368.3" y="358.3" width="2.6" height="2.4" rx="0.8" fill="#f0f0f0"/>
<rect x="407.1" y="358.3" width="2.6" height="2.4" rx="0.8" fill="#f0f0f0"/>
<rect x="368.3" y="363.8" width="2.6" height="2.4" rx="0.8" fill="#f0f0f0"/>
<rect x="407.1" y="363.8" width="2.6" height="2.4" rx="0.8" fill="#f0f0f0"/>
<rect x="368.3" y="369.3" width="2.6" height="2.4" rx="0.8" fill="#f0f0f0"/>
<rect x="407.1" y="369.3" width="2.6" height="2.4" rx="0.8" fill="#f0f0f0"/>
<rect x="340.0" y="337.0" width="17.0" height="18.0" rx="2" fill="none" stroke="#eef3f8" stroke-width="1.1"/>
<rect x="343.0" y="340.0" width="11.0" height="4.5" rx="2.25" fill="#d8c79e" />
<rect x="343.0" y="348.0" width="11.0" height="4.5" rx="2.25" fill="#d8c79e" />
<rect x="340.0" y="364.0" width="17.0" height="19.5" rx="2" fill="none" stroke="#eef3f8" stroke-width="1.1"/>
<rect x="343.0" y="367.0" width="5.0" height="5.0" rx="1" fill="#e9e7e2" />
<rect x="350.0" y="367.0" width="5.0" height="5.0" rx="1" fill="#e9e7e2" />
<rect x="343.0" y="375.0" width="11.0" height="4.5" rx="2.25" fill="#d8c79e" />
<rect x="448.0" y="270.0" width="32.0" height="18.0" rx="1" fill="#2b2b2d" />
<rect x="463" y="270" width="2" height="18" fill="#333"/>
<rect x="482.5" y="270.0" width="36.0" height="18.0" rx="1" fill="#2b2b2d" />
<rect x="481.0" y="268.0" width="39.0" height="22.0" rx="2" fill="none" stroke="#eef3f8" stroke-width="1.1"/>
<rect x="450.0" y="259.0" width="10.0" height="11.0" rx="1" fill="#e9e7e2" />
<rect x="452.0" y="261.0" width="6.0" height="5.0" rx="0.5" fill="#6c6c6c" />
<rect x="468.0" y="259.0" width="10.0" height="11.0" rx="1" fill="#e9e7e2" />
<rect x="470.0" y="261.0" width="6.0" height="5.0" rx="0.5" fill="#6c6c6c" />
<rect x="496.0" y="259.0" width="10.0" height="11.0" rx="1" fill="#e9e7e2" />
<rect x="498.0" y="261.0" width="6.0" height="5.0" rx="0.5" fill="#6c6c6c" />
<rect x="450.0" y="289.0" width="10.0" height="12.0" rx="1" fill="#e9e7e2" />
<rect x="452.0" y="293.0" width="6.0" height="5.0" rx="0.5" fill="#6c6c6c" />
<rect x="468.0" y="289.0" width="10.0" height="12.0" rx="1" fill="#e9e7e2" />
<rect x="470.0" y="293.0" width="6.0" height="5.0" rx="0.5" fill="#6c6c6c" />
<rect x="485.0" y="289.0" width="10.0" height="12.0" rx="1" fill="#e9e7e2" />
<rect x="487.0" y="293.0" width="6.0" height="5.0" rx="0.5" fill="#6c6c6c" />
<rect x="507.0" y="289.0" width="10.0" height="12.0" rx="1" fill="#e9e7e2" />
<rect x="509.0" y="293.0" width="6.0" height="5.0" rx="0.5" fill="#6c6c6c" />
<rect x="490.0" y="289.0" width="10.0" height="3.0" rx="1" fill="#dfe8f2" />
<rect x="439.5" y="313.5" width="16.0" height="16.5" rx="2" fill="none" stroke="#eef3f8" stroke-width="1.1"/>
<rect x="441.5" y="316.5" width="5.0" height="4.5" rx="1" fill="#e9e7e2" />
<rect x="448.5" y="316.5" width="5.0" height="4.5" rx="1" fill="#e9e7e2" />
<rect x="441.5" y="323.5" width="5.0" height="4.5" rx="1" fill="#e9e7e2" />
<rect x="448.5" y="323.5" width="5.0" height="4.5" rx="1" fill="#e9e7e2" />
<rect x="462.5" y="313.5" width="16.0" height="16.5" rx="2" fill="none" stroke="#eef3f8" stroke-width="1.1"/>
<rect x="464.5" y="316.5" width="5.0" height="4.5" rx="1" fill="#e9e7e2" />
<rect x="471.5" y="316.5" width="5.0" height="4.5" rx="1" fill="#e9e7e2" />
<rect x="464.5" y="323.5" width="5.0" height="4.5" rx="1" fill="#e9e7e2" />
<rect x="471.5" y="323.5" width="5.0" height="4.5" rx="1" fill="#e9e7e2" />
<rect x="455.5" y="313.5" width="7.0" height="16.5" rx="1.5" fill="none" stroke="#eef3f8" stroke-width="1"/>
<rect x="456.8" y="316.0" width="4.5" height="12.0" rx="1" fill="#cdb585" />
<rect x="456.8" y="316.0" width="4.5" height="3.0" rx="1" fill="#e9e7e2" />
<rect x="456.8" y="325.0" width="4.5" height="3.0" rx="1" fill="#e9e7e2" />
<rect x="478.5" y="313.5" width="15.0" height="16.5" rx="2" fill="none" stroke="#eef3f8" stroke-width="1.1"/>
<rect x="480.5" y="316.0" width="11.0" height="4.5" rx="2.25" fill="#d8c79e" />
<rect x="480.5" y="323.5" width="11.0" height="4.5" rx="2.25" fill="#d8c79e" />
<rect x="493.5" y="313.5" width="9.0" height="16.5" rx="1.5" fill="none" stroke="#eef3f8" stroke-width="1"/>
<rect x="495.5" y="316.0" width="5.0" height="12.0" rx="1" fill="#cdb585" />
<rect x="495.5" y="316.0" width="5.0" height="3.0" rx="1" fill="#e9e7e2" />
<rect x="495.5" y="325.0" width="5.0" height="3.0" rx="1" fill="#e9e7e2" />
<rect x="419.5" y="333.0" width="17.0" height="10.0" rx="2" fill="none" stroke="#eef3f8" stroke-width="1.1"/>
<rect x="422.0" y="335.5" width="11.0" height="4.5" rx="2.25" fill="#d8c79e" />
<rect x="437.0" y="333.0" width="17.0" height="10.0" rx="2" fill="none" stroke="#eef3f8" stroke-width="1.1"/>
<rect x="439.5" y="335.5" width="5.0" height="5.0" rx="1" fill="#e9e7e2" />
<rect x="446.5" y="335.5" width="5.0" height="5.0" rx="1" fill="#e9e7e2" />
<rect x="452.0" y="340.0" width="8.0" height="7.0" rx="1" fill="#e9e7e2" />
<rect x="470.0" y="334.0" width="7.0" height="6.0" rx="1" fill="#e9e7e2" />
<rect x="470.0" y="347.0" width="7.0" height="6.0" rx="1" fill="#e9e7e2" />
<rect x="460.5" y="333.5" width="9.5" height="18.5" rx="1" fill="#1e1e20" />
<rect x="419.5" y="350.5" width="17.0" height="19.0" rx="2" fill="none" stroke="#eef3f8" stroke-width="1.1"/>
<rect x="437.0" y="350.5" width="17.0" height="19.0" rx="2" fill="none" stroke="#eef3f8" stroke-width="1.1"/>
<rect x="422.0" y="353.0" width="5.0" height="5.0" rx="1" fill="#e9e7e2" />
<rect x="429.0" y="353.0" width="5.0" height="5.0" rx="1" fill="#e9e7e2" />
<rect x="439.5" y="353.0" width="5.0" height="5.0" rx="1" fill="#e9e7e2" />
<rect x="446.5" y="353.0" width="5.0" height="5.0" rx="1" fill="#e9e7e2" />
<rect x="422.0" y="362.0" width="11.0" height="4.5" rx="2.25" fill="#d8c79e" />
<rect x="439.5" y="362.0" width="11.0" height="4.5" rx="2.25" fill="#d8c79e" />
<rect x="454.0" y="359.0" width="16.0" height="11.0" rx="2" fill="none" stroke="#eef3f8" stroke-width="1.1"/>
<rect x="456.5" y="362.0" width="5.0" height="5.0" rx="1" fill="#e9e7e2" />
<rect x="463.5" y="362.0" width="5.0" height="5.0" rx="1" fill="#e9e7e2" />
<rect x="419.5" y="371.0" width="17.0" height="10.0" rx="2" fill="none" stroke="#eef3f8" stroke-width="1.1"/>
<rect x="422.0" y="373.5" width="11.0" height="4.5" rx="2.25" fill="#d8c79e" />
<rect x="503.0" y="311.5" width="16.0" height="102.0" rx="2" fill="none" stroke="#eef3f8" stroke-width="1.1"/>
<rect x="505.5" y="313.5" width="4.5" height="6.0" rx="1" fill="#e9e7e2" />
<rect x="512.0" y="313.5" width="4.5" height="6.0" rx="1" fill="#e9e7e2" />
<rect x="510.0" y="314.5" width="2.0" height="4.0" rx="0" fill="#1a1a1a" />
<rect x="505.5" y="322.6" width="4.5" height="6.0" rx="1" fill="#e9e7e2" />
<rect x="512.0" y="322.6" width="4.5" height="6.0" rx="1" fill="#e9e7e2" />
<rect x="510.0" y="323.6" width="2.0" height="4.0" rx="0" fill="#1a1a1a" />
<rect x="505.5" y="331.8" width="4.5" height="6.0" rx="1" fill="#e9e7e2" />
<rect x="512.0" y="331.8" width="4.5" height="6.0" rx="1" fill="#e9e7e2" />
<rect x="510.0" y="332.8" width="2.0" height="4.0" rx="0" fill="#1a1a1a" />
<rect x="505.5" y="340.9" width="4.5" height="6.0" rx="1" fill="#e9e7e2" />
<rect x="512.0" y="340.9" width="4.5" height="6.0" rx="1" fill="#e9e7e2" />
<rect x="510.0" y="341.9" width="2.0" height="4.0" rx="0" fill="#1a1a1a" />
<rect x="505.5" y="350.1" width="4.5" height="6.0" rx="1" fill="#e9e7e2" />
<rect x="512.0" y="350.1" width="4.5" height="6.0" rx="1" fill="#e9e7e2" />
<rect x="510.0" y="351.1" width="2.0" height="4.0" rx="0" fill="#1a1a1a" />
<rect x="505.5" y="359.2" width="4.5" height="6.0" rx="1" fill="#e9e7e2" />
<rect x="512.0" y="359.2" width="4.5" height="6.0" rx="1" fill="#e9e7e2" />
<rect x="510.0" y="360.2" width="2.0" height="4.0" rx="0" fill="#1a1a1a" />
<rect x="505.5" y="368.4" width="4.5" height="6.0" rx="1" fill="#e9e7e2" />
<rect x="512.0" y="368.4" width="4.5" height="6.0" rx="1" fill="#e9e7e2" />
<rect x="510.0" y="369.4" width="2.0" height="4.0" rx="0" fill="#1a1a1a" />
<rect x="505.5" y="377.6" width="4.5" height="6.0" rx="1" fill="#e9e7e2" />
<rect x="512.0" y="377.6" width="4.5" height="6.0" rx="1" fill="#e9e7e2" />
<rect x="510.0" y="378.6" width="2.0" height="4.0" rx="0" fill="#1a1a1a" />
<rect x="505.5" y="386.7" width="4.5" height="6.0" rx="1" fill="#e9e7e2" />
<rect x="512.0" y="386.7" width="4.5" height="6.0" rx="1" fill="#e9e7e2" />
<rect x="510.0" y="387.7" width="2.0" height="4.0" rx="0" fill="#1a1a1a" />
<rect x="505.5" y="395.9" width="4.5" height="6.0" rx="1" fill="#e9e7e2" />
<rect x="512.0" y="395.9" width="4.5" height="6.0" rx="1" fill="#e9e7e2" />
<rect x="510.0" y="396.9" width="2.0" height="4.0" rx="0" fill="#1a1a1a" />
<rect x="505.5" y="405.0" width="4.5" height="6.0" rx="1" fill="#e9e7e2" />
<rect x="512.0" y="405.0" width="4.5" height="6.0" rx="1" fill="#e9e7e2" />
<rect x="510.0" y="406.0" width="2.0" height="4.0" rx="0" fill="#1a1a1a" />
<rect x="505.5" y="332.0" width="11.0" height="6.0" rx="2" fill="#cdb585" />
<rect x="505.5" y="369.0" width="11.0" height="6.0" rx="2" fill="#cdb585" />
<rect x="505.5" y="404.5" width="11.0" height="6.0" rx="2" fill="#cdb585" />
<path d="M438.5,378.5 L448.5,378.5 L453,390 L457,381.5 L464,381.5 L468,391 L470.5,384 L468.5,379 L471.5,372 L473.5,367.5 L474,376 L472,382 L474.5,386 L477.5,378.5 L486.5,378.5 L490,389 L485.5,399 L481,411.5 L478.5,402 L480.5,394 L478,389 L473.5,400.5 L463.5,400.5 L460.5,392 L456.5,400.5 L446.5,400.5 Z" fill="#f4f4f2"/>
<circle cx="486.5" cy="371.5" r="5" fill="none" stroke="#f2f4f6" stroke-width="1.4"/>
<text x="486.5" y="374.3" font-size="7.5" font-weight="bold" fill="#f2f4f6" text-anchor="middle">R</text>
<rect x="340.0" y="388.0" width="86.0" height="17.0" rx="2" fill="none" stroke="#eef3f8" stroke-width="1.1"/>
<rect x="343.0" y="390.5" width="5.5" height="12.0" rx="1" fill="#1c1c1c" />
<rect x="343.0" y="390.5" width="5.5" height="3.6" rx="0.8" fill="#e9e7e2" />
<rect x="343.0" y="398.9" width="5.5" height="3.6" rx="0.8" fill="#e9e7e2" />
<rect x="352.3" y="390.5" width="5.5" height="12.0" rx="1" fill="#1c1c1c" />
<rect x="352.3" y="390.5" width="5.5" height="3.6" rx="0.8" fill="#e9e7e2" />
<rect x="352.3" y="398.9" width="5.5" height="3.6" rx="0.8" fill="#e9e7e2" />
<rect x="361.6" y="390.5" width="5.5" height="12.0" rx="1" fill="#1c1c1c" />
<rect x="361.6" y="390.5" width="5.5" height="3.6" rx="0.8" fill="#e9e7e2" />
<rect x="361.6" y="398.9" width="5.5" height="3.6" rx="0.8" fill="#e9e7e2" />
<rect x="370.9" y="390.5" width="5.5" height="12.0" rx="1" fill="#cdb585" />
<rect x="370.9" y="390.5" width="5.5" height="3.6" rx="0.8" fill="#e9e7e2" />
<rect x="370.9" y="398.9" width="5.5" height="3.6" rx="0.8" fill="#e9e7e2" />
<rect x="380.2" y="390.5" width="5.5" height="12.0" rx="1" fill="#cdb585" />
<rect x="380.2" y="390.5" width="5.5" height="3.6" rx="0.8" fill="#e9e7e2" />
<rect x="380.2" y="398.9" width="5.5" height="3.6" rx="0.8" fill="#e9e7e2" />
<rect x="389.5" y="390.5" width="5.5" height="12.0" rx="1" fill="#cdb585" />
<rect x="389.5" y="390.5" width="5.5" height="3.6" rx="0.8" fill="#e9e7e2" />
<rect x="389.5" y="398.9" width="5.5" height="3.6" rx="0.8" fill="#e9e7e2" />
<rect x="398.8" y="390.5" width="5.5" height="12.0" rx="1" fill="#cdb585" />
<rect x="398.8" y="390.5" width="5.5" height="3.6" rx="0.8" fill="#e9e7e2" />
<rect x="398.8" y="398.9" width="5.5" height="3.6" rx="0.8" fill="#e9e7e2" />
<rect x="408.1" y="390.5" width="5.5" height="12.0" rx="1" fill="#cdb585" />
<rect x="408.1" y="390.5" width="5.5" height="3.6" rx="0.8" fill="#e9e7e2" />
<rect x="408.1" y="398.9" width="5.5" height="3.6" rx="0.8" fill="#e9e7e2" />
<rect x="417.4" y="390.5" width="5.5" height="12.0" rx="1" fill="#cdb585" />
<rect x="417.4" y="390.5" width="5.5" height="3.6" rx="0.8" fill="#e9e7e2" />
<rect x="417.4" y="398.9" width="5.5" height="3.6" rx="0.8" fill="#e9e7e2" />
<rect x="342.5" y="411.5" width="8.0" height="15.0" rx="1" fill="#e6e4df" />
<rect x="366.5" y="411.5" width="8.0" height="15.0" rx="1" fill="#e6e4df" />
<rect x="341.0" y="426.5" width="36.5" height="18.5" rx="1" fill="#2b2b2d" />
<rect x="343.0" y="445.0" width="8.0" height="10.0" rx="1" fill="#dcdad5" />
<rect x="355.0" y="445.0" width="8.0" height="10.0" rx="1" fill="#dcdad5" />
<rect x="367.0" y="445.0" width="8.0" height="10.0" rx="1" fill="#dcdad5" />
<rect x="392.0" y="409.0" width="24.0" height="13.0" rx="2" fill="none" stroke="#eef3f8" stroke-width="1.1"/>
<rect x="395.0" y="411.0" width="18.0" height="9.0" rx="2" fill="#cdb585" />
<rect x="395.0" y="411.0" width="4.0" height="9.0" rx="1" fill="#dcdcd8" />
<rect x="409.0" y="411.0" width="4.0" height="9.0" rx="1" fill="#dcdcd8" />
<rect x="392.0" y="424.0" width="24.0" height="16.0" rx="2" fill="none" stroke="#eef3f8" stroke-width="1.1"/>
<rect x="395.0" y="426.5" width="18.0" height="10.0" rx="2" fill="#cdb585" />
<rect x="395.0" y="426.5" width="4.0" height="10.0" rx="1" fill="#dcdcd8" />
<rect x="409.0" y="426.5" width="4.0" height="10.0" rx="1" fill="#dcdcd8" />
<rect x="382.5" y="441.5" width="33.5" height="25.5" rx="2" fill="#dedcd6" />
<rect x="384.0" y="443.0" width="30.5" height="22.5" rx="2" fill="#7a6a5e" />
<rect x="339.0" y="465.0" width="50.0" height="17.0" rx="2" fill="none" stroke="#eef3f8" stroke-width="1.1"/>
<rect x="341.0" y="467.0" width="9.0" height="14.0" rx="2" fill="#cdb585" />
<rect x="341.0" y="467.0" width="9.0" height="3.1" rx="1" fill="#dcdcd8" />
<rect x="341.0" y="477.9" width="9.0" height="3.1" rx="1" fill="#dcdcd8" />
<rect x="353.0" y="469.0" width="5.5" height="11.0" rx="1" fill="#cdb585" />
<rect x="353.0" y="469.0" width="5.5" height="3.3" rx="0.8" fill="#e9e7e2" />
<rect x="353.0" y="476.7" width="5.5" height="3.3" rx="0.8" fill="#e9e7e2" />
<rect x="362.0" y="469.0" width="5.5" height="11.0" rx="1" fill="#cdb585" />
<rect x="362.0" y="469.0" width="5.5" height="3.3" rx="0.8" fill="#e9e7e2" />
<rect x="362.0" y="476.7" width="5.5" height="3.3" rx="0.8" fill="#e9e7e2" />
<rect x="371.0" y="469.0" width="5.5" height="11.0" rx="1" fill="#cdb585" />
<rect x="371.0" y="469.0" width="5.5" height="3.3" rx="0.8" fill="#e9e7e2" />
<rect x="371.0" y="476.7" width="5.5" height="3.3" rx="0.8" fill="#e9e7e2" />
<rect x="380.0" y="469.0" width="5.5" height="11.0" rx="1" fill="#cdb585" />
<rect x="380.0" y="469.0" width="5.5" height="3.3" rx="0.8" fill="#e9e7e2" />
<rect x="380.0" y="476.7" width="5.5" height="3.3" rx="0.8" fill="#e9e7e2" />
<rect x="434.0" y="419.5" width="83.5" height="82.5" rx="1" fill="#474c54" />
<circle cx="438.5" cy="417.8" r="1.1" fill="#eeeeee"/>
<circle cx="438.5" cy="503.5" r="1.1" fill="#eeeeee"/>
<circle cx="443.1" cy="417.8" r="1.1" fill="#eeeeee"/>
<circle cx="443.1" cy="503.5" r="1.1" fill="#eeeeee"/>
<circle cx="447.7" cy="417.8" r="1.1" fill="#eeeeee"/>
<circle cx="447.7" cy="503.5" r="1.1" fill="#eeeeee"/>
<circle cx="452.3" cy="417.8" r="1.1" fill="#eeeeee"/>
<circle cx="452.3" cy="503.5" r="1.1" fill="#eeeeee"/>
<circle cx="456.9" cy="417.8" r="1.1" fill="#eeeeee"/>
<circle cx="456.9" cy="503.5" r="1.1" fill="#eeeeee"/>
<circle cx="461.5" cy="417.8" r="1.1" fill="#eeeeee"/>
<circle cx="461.5" cy="503.5" r="1.1" fill="#eeeeee"/>
<circle cx="466.1" cy="417.8" r="1.1" fill="#eeeeee"/>
<circle cx="466.1" cy="503.5" r="1.1" fill="#eeeeee"/>
<circle cx="470.7" cy="417.8" r="1.1" fill="#eeeeee"/>
<circle cx="470.7" cy="503.5" r="1.1" fill="#eeeeee"/>
<circle cx="475.3" cy="417.8" r="1.1" fill="#eeeeee"/>
<circle cx="475.3" cy="503.5" r="1.1" fill="#eeeeee"/>
<circle cx="479.9" cy="417.8" r="1.1" fill="#eeeeee"/>
<circle cx="479.9" cy="503.5" r="1.1" fill="#eeeeee"/>
<circle cx="484.5" cy="417.8" r="1.1" fill="#eeeeee"/>
<circle cx="484.5" cy="503.5" r="1.1" fill="#eeeeee"/>
<circle cx="489.1" cy="417.8" r="1.1" fill="#eeeeee"/>
<circle cx="489.1" cy="503.5" r="1.1" fill="#eeeeee"/>
<circle cx="493.7" cy="417.8" r="1.1" fill="#eeeeee"/>
<circle cx="493.7" cy="503.5" r="1.1" fill="#eeeeee"/>
<circle cx="498.3" cy="417.8" r="1.1" fill="#eeeeee"/>
<circle cx="498.3" cy="503.5" r="1.1" fill="#eeeeee"/>
<circle cx="502.9" cy="417.8" r="1.1" fill="#eeeeee"/>
<circle cx="502.9" cy="503.5" r="1.1" fill="#eeeeee"/>
<circle cx="507.5" cy="417.8" r="1.1" fill="#eeeeee"/>
<circle cx="507.5" cy="503.5" r="1.1" fill="#eeeeee"/>
<circle cx="512.1" cy="417.8" r="1.1" fill="#eeeeee"/>
<circle cx="512.1" cy="503.5" r="1.1" fill="#eeeeee"/>
<circle cx="516.7" cy="417.8" r="1.1" fill="#eeeeee"/>
<circle cx="516.7" cy="503.5" r="1.1" fill="#eeeeee"/>
<circle cx="432.5" cy="423.5" r="1.1" fill="#eeeeee"/>
<circle cx="518.8" cy="423.5" r="1.1" fill="#eeeeee"/>
<circle cx="432.5" cy="428.1" r="1.1" fill="#eeeeee"/>
<circle cx="518.8" cy="428.1" r="1.1" fill="#eeeeee"/>
<circle cx="432.5" cy="432.7" r="1.1" fill="#eeeeee"/>
<circle cx="518.8" cy="432.7" r="1.1" fill="#eeeeee"/>
<circle cx="432.5" cy="437.3" r="1.1" fill="#eeeeee"/>
<circle cx="518.8" cy="437.3" r="1.1" fill="#eeeeee"/>
<circle cx="432.5" cy="441.9" r="1.1" fill="#eeeeee"/>
<circle cx="518.8" cy="441.9" r="1.1" fill="#eeeeee"/>
<circle cx="432.5" cy="446.5" r="1.1" fill="#eeeeee"/>
<circle cx="518.8" cy="446.5" r="1.1" fill="#eeeeee"/>
<circle cx="432.5" cy="451.1" r="1.1" fill="#eeeeee"/>
<circle cx="518.8" cy="451.1" r="1.1" fill="#eeeeee"/>
<circle cx="432.5" cy="455.7" r="1.1" fill="#eeeeee"/>
<circle cx="518.8" cy="455.7" r="1.1" fill="#eeeeee"/>
<circle cx="432.5" cy="460.3" r="1.1" fill="#eeeeee"/>
<circle cx="518.8" cy="460.3" r="1.1" fill="#eeeeee"/>
<circle cx="432.5" cy="464.9" r="1.1" fill="#eeeeee"/>
<circle cx="518.8" cy="464.9" r="1.1" fill="#eeeeee"/>
<circle cx="432.5" cy="469.5" r="1.1" fill="#eeeeee"/>
<circle cx="518.8" cy="469.5" r="1.1" fill="#eeeeee"/>
<circle cx="432.5" cy="474.1" r="1.1" fill="#eeeeee"/>
<circle cx="518.8" cy="474.1" r="1.1" fill="#eeeeee"/>
<circle cx="432.5" cy="478.7" r="1.1" fill="#eeeeee"/>
<circle cx="518.8" cy="478.7" r="1.1" fill="#eeeeee"/>
<circle cx="432.5" cy="483.3" r="1.1" fill="#eeeeee"/>
<circle cx="518.8" cy="483.3" r="1.1" fill="#eeeeee"/>
<circle cx="432.5" cy="487.9" r="1.1" fill="#eeeeee"/>
<circle cx="518.8" cy="487.9" r="1.1" fill="#eeeeee"/>
<circle cx="432.5" cy="492.5" r="1.1" fill="#eeeeee"/>
<circle cx="518.8" cy="492.5" r="1.1" fill="#eeeeee"/>
<circle cx="432.5" cy="497.1" r="1.1" fill="#eeeeee"/>
<circle cx="518.8" cy="497.1" r="1.1" fill="#eeeeee"/>
<circle cx="432.5" cy="501.7" r="1.1" fill="#eeeeee"/>
<circle cx="518.8" cy="501.7" r="1.1" fill="#eeeeee"/>
<defs><clipPath id="espc"><circle cx="474.5" cy="481" r="12.5"/></clipPath></defs>
<circle cx="474.5" cy="481" r="12.5" fill="#57564f"/>
<g clip-path="url(#espc)" fill="none" stroke="#9a8d66" stroke-width="3.6"><circle cx="462" cy="497" r="7"/><circle cx="462" cy="497" r="13.5"/><circle cx="462" cy="497" r="20"/><circle cx="462" cy="497" r="26.5"/></g>
<rect x="314.0" y="491.5" width="19.0" height="5.0" rx="2.5" fill="#dcdcd8" />
<rect x="366.0" y="491.5" width="19.0" height="5.0" rx="2.5" fill="#dcdcd8" />
<rect x="314.0" y="499.0" width="19.0" height="5.0" rx="2.5" fill="#dcdcd8" />
<rect x="366.0" y="499.0" width="19.0" height="5.0" rx="2.5" fill="#dcdcd8" />
<rect x="314.0" y="507.0" width="19.0" height="5.0" rx="2.5" fill="#dcdcd8" />
<rect x="366.0" y="507.0" width="19.0" height="5.0" rx="2.5" fill="#dcdcd8" />
<rect x="314.0" y="514.5" width="19.0" height="5.0" rx="2.5" fill="#dcdcd8" />
<rect x="366.0" y="514.5" width="19.0" height="5.0" rx="2.5" fill="#dcdcd8" />
<rect x="333.0" y="488.0" width="33.0" height="34.0" rx="1" fill="#2b2b2d" />
<rect x="294.0" y="495.0" width="13.0" height="24.0" rx="2" fill="none" stroke="#eef3f8" stroke-width="1.1"/>
<rect x="296.5" y="497.5" width="8.0" height="5.0" rx="1" fill="#e9e7e2" />
<rect x="296.5" y="511.0" width="8.0" height="5.0" rx="1" fill="#e9e7e2" />
<rect x="296.5" y="502.5" width="8.0" height="8.5" rx="0.5" fill="#1d1d1d" />
<rect x="293.5" y="521.0" width="19.0" height="26.0" rx="2" fill="none" stroke="#eef3f8" stroke-width="1.1"/>
<rect x="296.0" y="524.0" width="5.0" height="5.0" rx="1" fill="#e9e7e2" />
<rect x="304.0" y="524.0" width="5.0" height="5.0" rx="1" fill="#e9e7e2" />
<rect x="296.0" y="532.0" width="5.0" height="5.0" rx="1" fill="#e9e7e2" />
<rect x="304.0" y="532.0" width="5.0" height="5.0" rx="1" fill="#e9e7e2" />
<rect x="296.0" y="540.0" width="5.0" height="5.0" rx="1" fill="#e9e7e2" />
<rect x="304.0" y="540.0" width="5.0" height="5.0" rx="1" fill="#e9e7e2" />
<rect x="315.0" y="522.0" width="12.0" height="21.0" rx="2" fill="none" stroke="#eef3f8" stroke-width="1.1"/>
<rect x="317.5" y="525.0" width="7.0" height="15.0" rx="1" fill="#e2e0da" />
<rect x="317.5" y="528.0" width="7.0" height="9.0" rx="0.5" fill="#222" />
<rect x="389.0" y="484.0" width="17.0" height="52.0" rx="2" fill="none" stroke="#eef3f8" stroke-width="1.1"/>
<rect x="407.0" y="484.0" width="20.0" height="52.0" rx="2" fill="none" stroke="#eef3f8" stroke-width="1.1"/>
<rect x="391.5" y="487.0" width="5.0" height="7.0" rx="1" fill="#e9e7e2" />
<rect x="399.0" y="487.0" width="5.0" height="7.0" rx="1" fill="#e9e7e2" />
<rect x="409.5" y="488.0" width="14.0" height="5.0" rx="2.5" fill="#d2bd8d" />
<rect x="391.5" y="499.2" width="5.0" height="7.0" rx="1" fill="#e9e7e2" />
<rect x="399.0" y="499.2" width="5.0" height="7.0" rx="1" fill="#e9e7e2" />
<rect x="409.5" y="500.2" width="14.0" height="5.0" rx="2.5" fill="#e2e0da" />
<rect x="391.5" y="511.4" width="5.0" height="7.0" rx="1" fill="#e9e7e2" />
<rect x="399.0" y="511.4" width="5.0" height="7.0" rx="1" fill="#e9e7e2" />
<rect x="409.5" y="512.4" width="14.0" height="5.0" rx="2.5" fill="#d2bd8d" />
<rect x="391.5" y="523.6" width="5.0" height="7.0" rx="1" fill="#e9e7e2" />
<rect x="399.0" y="523.6" width="5.0" height="7.0" rx="1" fill="#e9e7e2" />
<rect x="409.5" y="524.6" width="14.0" height="5.0" rx="2.5" fill="#e2e0da" />
<rect x="389.0" y="537.0" width="17.0" height="12.0" rx="2" fill="none" stroke="#eef3f8" stroke-width="1.1"/>
<rect x="407.0" y="537.0" width="20.0" height="12.0" rx="2" fill="none" stroke="#eef3f8" stroke-width="1.1"/>
<rect x="391.5" y="539.5" width="5.0" height="7.0" rx="1" fill="#e9e7e2" />
<rect x="399.0" y="539.5" width="5.0" height="7.0" rx="1" fill="#e9e7e2" />
<rect x="409.5" y="540.5" width="14.0" height="5.0" rx="2.5" fill="#d8c79e" />
<rect x="431.0" y="510.0" width="23.0" height="17.0" rx="3" fill="none" stroke="#eef3f8" stroke-width="1.3"/>
<rect x="434.5" y="512.0" width="17.0" height="12.0" rx="1" fill="#1b1b1b" />
<rect x="434.5" y="512.0" width="4.0" height="12.0" rx="1" fill="#e9e7e2" />
<rect x="461.0" y="510.0" width="21.0" height="15.0" rx="3" fill="none" stroke="#eef3f8" stroke-width="1.1"/>
<rect x="465.0" y="515.0" width="13.0" height="5.0" rx="2.5" fill="#d8c79e" />
<rect x="488.5" y="511.0" width="17.0" height="13.0" rx="3" fill="none" stroke="#eef3f8" stroke-width="1.1"/>
<rect x="491.0" y="514.5" width="5.0" height="6.0" rx="1" fill="#e9e7e2" />
<rect x="498.0" y="514.5" width="5.0" height="6.0" rx="1" fill="#e9e7e2" />
<rect x="506.0" y="511.0" width="18.0" height="13.0" rx="3" fill="none" stroke="#eef3f8" stroke-width="1.1"/>
<rect x="508.5" y="515.0" width="13.0" height="5.0" rx="2.5" fill="#d8c79e" />
<rect x="405.5" y="554.5" width="12.0" height="21.0" rx="2" fill="none" stroke="#eef3f8" stroke-width="1.2"/>
<rect x="408.5" y="558.0" width="6.0" height="14.0" rx="1" fill="#1b1b1b" />
<rect x="408.5" y="558.0" width="6.0" height="4.5" rx="1.5" fill="#e9e7e2" />
<rect x="408.5" y="567.5" width="6.0" height="4.5" rx="1.5" fill="#e9e7e2" />
<rect x="405.5" y="581.5" width="12.0" height="21.0" rx="2" fill="none" stroke="#eef3f8" stroke-width="1.2"/>
<rect x="408.5" y="585.0" width="6.0" height="14.0" rx="1" fill="#1b1b1b" />
<rect x="408.5" y="585.0" width="6.0" height="4.5" rx="1.5" fill="#e9e7e2" />
<rect x="408.5" y="594.5" width="6.0" height="4.5" rx="1.5" fill="#e9e7e2" />
<rect x="333.0" y="541.5" width="7.0" height="19.0" rx="1" fill="#dedcd5" />
<rect x="334.5" y="543.5" width="4.0" height="8.0" rx="0.5" fill="#c9c4b4" />
<rect x="347.5" y="541.5" width="7.0" height="19.0" rx="1" fill="#dedcd5" />
<rect x="349.0" y="543.5" width="4.0" height="8.0" rx="0.5" fill="#c9c4b4" />
<rect x="527.0" y="467.0" width="34.0" height="18.0" rx="2" fill="none" stroke="#eef3f8" stroke-width="1.1"/>
<rect x="529.5" y="469.5" width="5.0" height="13.0" rx="1" fill="#e9e7e2" />
<rect x="538.0" y="469.5" width="5.0" height="13.0" rx="1" fill="#e9e7e2" />
<rect x="548.0" y="469.5" width="5.0" height="13.0" rx="1" fill="#e9e7e2" />
<rect x="529.5" y="472.0" width="5.0" height="8.0" rx="1" fill="#cdb585" />
<rect x="527.0" y="487.0" width="34.0" height="17.0" rx="2" fill="none" stroke="#eef3f8" stroke-width="1.1"/>
<rect x="529.5" y="490.0" width="5.0" height="12.0" rx="1" fill="#cdb585" />
<rect x="537.0" y="493.0" width="11.0" height="5.0" rx="2.5" fill="#d8c79e" />
<rect x="551.0" y="490.0" width="5.0" height="12.0" rx="1" fill="#e9e7e2" />
<rect x="527.0" y="512.0" width="40.0" height="17.0" rx="2" fill="none" stroke="#eef3f8" stroke-width="1.1"/>
<rect x="529.5" y="514.5" width="5.5" height="12.0" rx="1" fill="#1c1c1c" />
<rect x="529.5" y="514.5" width="5.5" height="3.6" rx="0.8" fill="#e9e7e2" />
<rect x="529.5" y="522.9" width="5.5" height="3.6" rx="0.8" fill="#e9e7e2" />
<rect x="538.7" y="514.5" width="5.5" height="12.0" rx="1" fill="#cdb585" />
<rect x="538.7" y="514.5" width="5.5" height="3.6" rx="0.8" fill="#e9e7e2" />
<rect x="538.7" y="522.9" width="5.5" height="3.6" rx="0.8" fill="#e9e7e2" />
<rect x="547.9" y="514.5" width="5.5" height="12.0" rx="1" fill="#1c1c1c" />
<rect x="547.9" y="514.5" width="5.5" height="3.6" rx="0.8" fill="#e9e7e2" />
<rect x="547.9" y="522.9" width="5.5" height="3.6" rx="0.8" fill="#e9e7e2" />
<rect x="557.1" y="514.5" width="5.5" height="12.0" rx="1" fill="#cdb585" />
<rect x="557.1" y="514.5" width="5.5" height="3.6" rx="0.8" fill="#e9e7e2" />
<rect x="557.1" y="522.9" width="5.5" height="3.6" rx="0.8" fill="#e9e7e2" />
<rect x="545.0" y="534.0" width="23.0" height="18.0" rx="2" fill="none" stroke="#eef3f8" stroke-width="1.1"/>
<rect x="548.0" y="536.0" width="6.0" height="13.0" rx="1" fill="#cdb585" />
<rect x="548.0" y="536.0" width="6.0" height="3.9" rx="0.8" fill="#e9e7e2" />
<rect x="548.0" y="545.1" width="6.0" height="3.9" rx="0.8" fill="#e9e7e2" />
<rect x="558.0" y="536.0" width="6.0" height="13.0" rx="1" fill="#cdb585" />
<rect x="558.0" y="536.0" width="6.0" height="3.9" rx="0.8" fill="#e9e7e2" />
<rect x="558.0" y="545.1" width="6.0" height="3.9" rx="0.8" fill="#e9e7e2" />
<rect x="545.0" y="552.0" width="23.0" height="13.0" rx="2" fill="none" stroke="#eef3f8" stroke-width="1.1"/>
<rect x="548.0" y="554.0" width="18.0" height="9.0" rx="2" fill="#cdb585" />
<rect x="548.0" y="554.0" width="4.0" height="9.0" rx="1" fill="#dcdcd8" />
<rect x="562.0" y="554.0" width="4.0" height="9.0" rx="1" fill="#dcdcd8" />
<rect x="607.5" y="540.5" width="8.0" height="20.0" rx="1" fill="#dedcd5" />
<rect x="609.5" y="543.0" width="4.0" height="8.0" rx="0.5" fill="#c9c4b4" />
<rect x="622.0" y="540.5" width="8.0" height="20.0" rx="1" fill="#dedcd5" />
<rect x="624.0" y="543.0" width="4.0" height="8.0" rx="0.5" fill="#c9c4b4" />
<rect x="698.0" y="455.5" width="22.0" height="3.0" rx="1" fill="#eef3f8" />
<rect x="697.5" y="465.0" width="25.5" height="78.0" rx="1.5" fill="#ebe8e2" />
<rect x="699.0" y="487.5" width="22.5" height="44.5" rx="0.5" fill="#d93a2e" />
<circle cx="702.5" cy="492" r="0.9" fill="#a52a20"/><circle cx="718" cy="492" r="0.9" fill="#a52a20"/>
<circle cx="702.5" cy="500" r="0.9" fill="#a52a20"/><circle cx="718" cy="500" r="0.9" fill="#a52a20"/>
<circle cx="702.5" cy="508" r="0.9" fill="#a52a20"/><circle cx="718" cy="508" r="0.9" fill="#a52a20"/>
<circle cx="702.5" cy="516" r="0.9" fill="#a52a20"/><circle cx="718" cy="516" r="0.9" fill="#a52a20"/>
<circle cx="702.5" cy="524" r="0.9" fill="#a52a20"/><circle cx="718" cy="524" r="0.9" fill="#a52a20"/>
<path d="M700,470 Q706,466 712,471 T720,470" stroke="#b8b2a6" stroke-width="1" fill="none"/>
<circle cx="702.5" cy="478" r="1" fill="#c9a9a9"/><circle cx="718" cy="478" r="1" fill="#c9a9a9"/>
<circle cx="702.5" cy="484" r="1" fill="#c9a9a9"/><circle cx="718" cy="484" r="1" fill="#c9a9a9"/>
<path d="M700,539 Q706,531 710,531 Q714,531 720,539 Z" fill="#2a2a2a"/>
<text x="710" y="505" font-size="14.5" font-weight="bold" fill="#fff" text-anchor="middle" transform="rotate(90 710 505)" dy="5" textLength="20" lengthAdjust="spacingAndGlyphs">C3</text>
<rect x="532.0" y="318.0" width="12.0" height="124.0" rx="0" fill="#26324a" />
<rect x="535.0" y="324.7" width="8.5" height="8.0" rx="0.8" fill="#ebeae6" />
<path d="M537,330.7 L541,326.7" stroke="#77736b" stroke-width="1.2"/>
<rect x="535.0" y="337.8" width="8.5" height="8.0" rx="0.8" fill="#ebeae6" />
<path d="M537,343.8 L541,339.8" stroke="#77736b" stroke-width="1.2"/>
<rect x="535.0" y="350.8" width="8.5" height="8.0" rx="0.8" fill="#ebeae6" />
<path d="M537,356.8 L541,352.8" stroke="#77736b" stroke-width="1.2"/>
<rect x="535.0" y="363.9" width="8.5" height="8.0" rx="0.8" fill="#ebeae6" />
<path d="M537,369.9 L541,365.9" stroke="#77736b" stroke-width="1.2"/>
<rect x="535.0" y="376.9" width="8.5" height="8.0" rx="0.8" fill="#ebeae6" />
<path d="M537,382.9 L541,378.9" stroke="#77736b" stroke-width="1.2"/>
<rect x="535.0" y="389.9" width="8.5" height="8.0" rx="0.8" fill="#ebeae6" />
<path d="M537,395.9 L541,391.9" stroke="#77736b" stroke-width="1.2"/>
<rect x="535.0" y="403.0" width="8.5" height="8.0" rx="0.8" fill="#ebeae6" />
<path d="M537,409.0 L541,405.0" stroke="#77736b" stroke-width="1.2"/>
<rect x="535.0" y="416.1" width="8.5" height="8.0" rx="0.8" fill="#ebeae6" />
<path d="M537,422.1 L541,418.1" stroke="#77736b" stroke-width="1.2"/>
<rect x="535.0" y="429.1" width="8.5" height="8.0" rx="0.8" fill="#ebeae6" />
<path d="M537,435.1 L541,431.1" stroke="#77736b" stroke-width="1.2"/>
<path d="M546,264 H561 V267.5 H720 V296 Q716,306 714,318 V442 H548 V438 H544 V309 H546 Z" fill="#e8e5e0"/>
<path d="M545.5,309 V442" stroke="#f5f3ef" stroke-width="4"/>
<rect x="546.0" y="263.5" width="15.0" height="14.5" rx="1" fill="#f0efeb" />
<rect x="561.0" y="267.5" width="6.0" height="16.0" rx="2" fill="#2a2a2a" />
<path d="M649,270.5 H698 M649,271 V292.3 H662 L672,284.8 H699" fill="none" stroke="#1f1f1f" stroke-width="4.5" stroke-linecap="round" stroke-linejoin="round"/>
<rect x="654.0" y="255.0" width="26.0" height="12.5" rx="1" fill="#ebeae6" />
<rect x="657.0" y="257.0" width="20.0" height="8.0" rx="1" fill="#cfcdc7" />
<path d="M556,431 H624 V443 H556 Z" fill="#2b2b2b"/>
<path d="M560,436 H600 L608,433 H618" stroke="#d8d8d4" stroke-width="1.2" fill="none"/>
<rect x="546.5" y="443.0" width="15.0" height="19.0" rx="1" fill="#ecebe7" />
<rect x="549.0" y="447.0" width="10.0" height="9.0" rx="1" fill="#c9c7c1" />
<rect x="654.0" y="443.0" width="26.0" height="17.0" rx="1" fill="#ecebe7" />
<rect x="657.0" y="446.0" width="20.0" height="9.0" rx="1" fill="#c9c7c1" />
<rect x="424.0" y="539.8" width="11.0" height="27.5" rx="5" fill="#e9e9e6" />
<rect x="528.0" y="539.8" width="11.0" height="27.5" rx="5" fill="#e9e9e6" />
<rect x="424.0" y="592.5" width="11.0" height="24.0" rx="5" fill="#d2d2cf" />
<rect x="528.0" y="592.5" width="11.0" height="24.0" rx="5" fill="#d2d2cf" />
<rect x="440.0" y="537.0" width="84.0" height="11.0" rx="0" fill="#263a55" />
<rect x="440.5" y="537.2" width="4.3" height="10.5" rx="0.5" fill="#ecebe8" />
<rect x="446.5" y="537.2" width="4.3" height="10.5" rx="0.5" fill="#ecebe8" />
<rect x="452.4" y="537.2" width="4.3" height="10.5" rx="0.5" fill="#ecebe8" />
<rect x="458.4" y="537.2" width="4.3" height="10.5" rx="0.5" fill="#ecebe8" />
<rect x="464.4" y="537.2" width="4.3" height="10.5" rx="0.5" fill="#ecebe8" />
<rect x="470.4" y="537.2" width="4.3" height="10.5" rx="0.5" fill="#ecebe8" />
<rect x="476.3" y="537.2" width="4.3" height="10.5" rx="0.5" fill="#ecebe8" />
<rect x="482.3" y="537.2" width="4.3" height="10.5" rx="0.5" fill="#ecebe8" />
<rect x="488.3" y="537.2" width="4.3" height="10.5" rx="0.5" fill="#ecebe8" />
<rect x="494.2" y="537.2" width="4.3" height="10.5" rx="0.5" fill="#ecebe8" />
<rect x="500.2" y="537.2" width="4.3" height="10.5" rx="0.5" fill="#ecebe8" />
<rect x="506.2" y="537.2" width="4.3" height="10.5" rx="0.5" fill="#ecebe8" />
<rect x="512.1" y="537.2" width="4.3" height="10.5" rx="0.5" fill="#ecebe8" />
<rect x="518.1" y="537.2" width="4.3" height="10.5" rx="0.5" fill="#ecebe8" />
<rect x="429.5" y="548.2" width="106.5" height="87.6" fill="url(#usbg)"/>
<rect x="450.6" y="548.2" width="19.5" height="14.0" rx="1" fill="#1f1f1f" />
<rect x="497.5" y="548.2" width="19.5" height="14.0" rx="1" fill="#1f1f1f" />
<rect x="458.0" y="548.2" width="51.8" height="7.3" rx="2" fill="#ededeb" />
<ellipse cx="484" cy="575.4" rx="8.8" ry="5.5" fill="#e2e2e0"/><path d="M475.5,574.5 Q484,567 492.5,574.5 Q484,571 475.5,574.5 Z" fill="#3a3226"/><ellipse cx="484" cy="577" rx="6.5" ry="3.2" fill="#f4f4f4"/>
<rect x="293.0" y="567.0" width="102.0" height="39.5" rx="1" fill="#f0ebe2" />
<rect x="293.0" y="567.0" width="6.0" height="39.5" rx="1" fill="#e2ddd3" />
<rect x="389.0" y="567.0" width="6.0" height="39.5" rx="1" fill="#e2ddd3" />
<rect x="317.0" y="560.6" width="55.5" height="8.0" rx="1" fill="#f2ede4" />
<path d="M331,562.5 H358.75 V567.5 H362 V572.5 H365 V601.25 H326 V572.5 H329 V567.5 H331 Z" fill="#e9dfc8"/>
<rect x="305.5" y="583.0" width="11.5" height="22.6" rx="0.5" fill="#a69d8e" />
<rect x="307.0" y="584.5" width="8.5" height="20.0" rx="0.5" fill="#f3f0ea" />
<rect x="373.0" y="583.0" width="11.5" height="22.6" rx="0.5" fill="#a69d8e" />
<rect x="374.5" y="584.5" width="8.5" height="20.0" rx="0.5" fill="#f3f0ea" />
<path d="M334,588 V596 H337.5 V588 M350,588 V596 H353.5 V588" stroke="#b9a57a" stroke-width="2" fill="none"/>
<rect x="569.0" y="567.0" width="102.0" height="39.5" rx="1" fill="#f0ebe2" />
<rect x="569.0" y="567.0" width="6.0" height="39.5" rx="1" fill="#e2ddd3" />
<rect x="665.0" y="567.0" width="6.0" height="39.5" rx="1" fill="#e2ddd3" />
<rect x="593.0" y="560.6" width="55.5" height="8.0" rx="1" fill="#f2ede4" />
<path d="M607,562.5 H634.75 V567.5 H638 V572.5 H641 V601.25 H602 V572.5 H605 V567.5 H607 Z" fill="#e9dfc8"/>
<rect x="581.5" y="583.0" width="11.5" height="22.6" rx="0.5" fill="#a69d8e" />
<rect x="583.0" y="584.5" width="8.5" height="20.0" rx="0.5" fill="#f3f0ea" />
<rect x="649.0" y="583.0" width="11.5" height="22.6" rx="0.5" fill="#a69d8e" />
<rect x="650.5" y="584.5" width="8.5" height="20.0" rx="0.5" fill="#f3f0ea" />
<path d="M610,588 V596 H613.5 V588 M626,588 V596 H629.5 V588" stroke="#b9a57a" stroke-width="2" fill="none"/>
<rect x="255" y="216" width="508" height="4" fill="#111"/>
<rect x="199.5" y="252" width="178.5" height="4" fill="#111"/>
<rect x="199.5" y="305" width="384.5" height="4" fill="#111"/>
<rect x="199.5" y="358" width="189.5" height="4" fill="#111"/>
<rect x="199.5" y="455" width="268.5" height="4" fill="#111"/>
<rect x="199.5" y="505" width="151.5" height="4" fill="#111"/>
<rect x="667" y="348" width="96" height="4" fill="#111"/>
<rect x="710" y="520" width="53" height="4" fill="#111"/>
<rect x="581" y="236" width="4" height="72" fill="#111"/>
<rect x="361" y="113.5" width="4" height="48.5" fill="#111"/>
<rect x="481" y="113.5" width="4" height="48.5" fill="#111"/>
<rect x="599" y="113.5" width="4" height="48.5" fill="#111"/>
<rect x="342" y="586.6" width="4" height="78.89999999999998" fill="#111"/>
<rect x="482" y="586.5" width="4" height="79.0" fill="#111"/>
<rect x="621" y="594.7" width="4" height="79.29999999999995" fill="#111"/>
<rect x="256" y="217" width="506" height="2" fill="#fff"/>
<rect x="200.5" y="253" width="176.5" height="2" fill="#fff"/>
<rect x="200.5" y="306" width="382.5" height="2" fill="#fff"/>
<rect x="200.5" y="359" width="187.5" height="2" fill="#fff"/>
<rect x="200.5" y="456" width="266.5" height="2" fill="#fff"/>
<rect x="200.5" y="506" width="149.5" height="2" fill="#fff"/>
<rect x="668" y="349" width="94" height="2" fill="#fff"/>
<rect x="711" y="521" width="51" height="2" fill="#fff"/>
<rect x="582" y="237" width="2" height="70" fill="#fff"/>
<rect x="362" y="114.5" width="2" height="46.5" fill="#fff"/>
<rect x="482" y="114.5" width="2" height="46.5" fill="#fff"/>
<rect x="600" y="114.5" width="2" height="46.5" fill="#fff"/>
<rect x="343" y="587.6" width="2" height="76.89999999999998" fill="#fff"/>
<rect x="483" y="587.5" width="2" height="77.0" fill="#fff"/>
<rect x="622" y="595.7" width="2" height="77.29999999999995" fill="#fff"/>
<rect x="582" y="306" width="2" height="2" fill="#fff"/>
<circle cx="256" cy="218" r="4.3" fill="#fff" stroke="#111" stroke-width="1.3"/>
<circle cx="706" cy="218" r="4.3" fill="#fff" stroke="#111" stroke-width="1.3"/>
<circle cx="377.5" cy="254" r="4.3" fill="#fff" stroke="#111" stroke-width="1.3"/>
<circle cx="583" cy="237" r="4.3" fill="#fff" stroke="#111" stroke-width="1.3"/>
<circle cx="388" cy="360" r="4.3" fill="#fff" stroke="#111" stroke-width="1.3"/>
<circle cx="467" cy="457" r="4.3" fill="#fff" stroke="#111" stroke-width="1.3"/>
<circle cx="350" cy="507" r="4.3" fill="#fff" stroke="#111" stroke-width="1.3"/>
<circle cx="668.5" cy="350" r="4.3" fill="#fff" stroke="#111" stroke-width="1.3"/>
<circle cx="711" cy="522" r="4.3" fill="#fff" stroke="#111" stroke-width="1.3"/>
<circle cx="363" cy="161" r="4.3" fill="#fff" stroke="#111" stroke-width="1.3"/>
<circle cx="483" cy="161" r="4.3" fill="#fff" stroke="#111" stroke-width="1.3"/>
<circle cx="601" cy="161" r="4.3" fill="#fff" stroke="#111" stroke-width="1.3"/>
<circle cx="344" cy="587.6" r="4.3" fill="#fff" stroke="#111" stroke-width="1.3"/>
<circle cx="484" cy="587.5" r="4.3" fill="#fff" stroke="#111" stroke-width="1.3"/>
<circle cx="623" cy="595.7" r="4.3" fill="#fff" stroke="#111" stroke-width="1.3"/>
<circle cx="363" cy="90" r="13.3" fill="#fff" stroke="#111" stroke-width="1.5"/>
<path transform="translate(358.40,82.70)" d="M5.9,0.2 L1.2,8.0 M8.4,9.7 C8.4,11.9 6.7,13.5 4.6,13.5 C2.5,13.5 0.8,11.9 0.8,9.7 C0.8,7.5 2.5,5.9 4.6,5.9 C6.7,5.9 8.4,7.5 8.4,9.7 Z" fill="none" stroke="#111" stroke-width="1.95" stroke-linecap="butt" stroke-linejoin="round"/>
<circle cx="483" cy="90" r="13.3" fill="#fff" stroke="#111" stroke-width="1.5"/>
<path transform="translate(478.70,82.70)" d="M0.4,0.95 H8.2 L2.9,13.8" fill="none" stroke="#111" stroke-width="1.95" stroke-linecap="butt" stroke-linejoin="round"/>
<circle cx="601" cy="90" r="13.3" fill="#fff" stroke="#111" stroke-width="1.5"/>
<path transform="translate(596.60,82.70)" d="M4.4,6.0 C2.7,6.0 1.4,4.8 1.4,3.2 C1.4,1.6 2.7,0.3 4.4,0.3 C6.1,0.3 7.4,1.6 7.4,3.2 C7.4,4.8 6.1,6.0 4.4,6.0 C2.2,6.0 0.5,7.6 0.5,9.8 C0.5,11.9 2.2,13.6 4.4,13.6 C6.6,13.6 8.3,11.9 8.3,9.8 C8.3,7.6 6.6,6.0 4.4,6.0 Z" fill="none" stroke="#111" stroke-width="1.95" stroke-linecap="butt" stroke-linejoin="round"/>
<circle cx="788" cy="220" r="13.3" fill="#fff" stroke="#111" stroke-width="1.5"/>
<path transform="translate(783.40,212.70)" d="M3.3,13.6 L8.0,5.8 M0.8,4.1 C0.8,1.9 2.5,0.3 4.6,0.3 C6.7,0.3 8.4,1.9 8.4,4.1 C8.4,6.3 6.7,7.9 4.6,7.9 C2.5,7.9 0.8,6.3 0.8,4.1 Z" fill="none" stroke="#111" stroke-width="1.95" stroke-linecap="butt" stroke-linejoin="round"/>
<circle cx="178" cy="254" r="13.3" fill="#fff" stroke="#111" stroke-width="1.5"/>
<path transform="translate(173.70,246.70)" d="M7.7,0.95 H2.2 L1.4,6.6 C2.1,5.9 3.2,5.5 4.3,5.5 C6.6,5.5 8.3,7.2 8.3,9.5 C8.3,12.0 6.5,13.6 4.1,13.6 C2.5,13.6 1.1,12.8 0.4,11.5" fill="none" stroke="#111" stroke-width="1.95" stroke-linecap="butt" stroke-linejoin="round"/>
<circle cx="178" cy="307" r="13.3" fill="#fff" stroke="#111" stroke-width="1.5"/>
<path transform="translate(173.50,299.70)" d="M6.2,13.8 V0.6 L0.5,9.9 H8.9" fill="none" stroke="#111" stroke-width="1.95" stroke-linecap="butt" stroke-linejoin="round"/>
<circle cx="178" cy="360" r="13.3" fill="#fff" stroke="#111" stroke-width="1.5"/>
<path transform="translate(173.70,352.70)" d="M0.9,0.95 H7.7 L3.6,5.7 C6.4,5.5 8.3,7.1 8.3,9.4 C8.3,12.0 6.4,13.6 4.1,13.6 C2.4,13.6 1.0,12.8 0.3,11.3" fill="none" stroke="#111" stroke-width="1.95" stroke-linecap="butt" stroke-linejoin="round"/>
<circle cx="788" cy="352" r="13.3" fill="#fff" stroke="#111" stroke-width="1.5"/>
<path transform="translate(780.20,344.70)" d="M0.6,3.0 L4.2,0.4 V13.8" fill="none" stroke="#111" stroke-width="1.95" stroke-linecap="butt" stroke-linejoin="round"/>
<path transform="translate(787.20,344.70)" d="M4.3,0.2 C6.7,0.2 8.3,2.9 8.3,6.9 C8.3,10.9 6.7,13.6 4.3,13.6 C1.9,13.6 0.3,10.9 0.3,6.9 C0.3,2.9 1.9,0.2 4.3,0.2 Z" fill="none" stroke="#111" stroke-width="1.95" stroke-linecap="butt" stroke-linejoin="round"/>
<circle cx="178" cy="459" r="13.3" fill="#fff" stroke="#111" stroke-width="1.5"/>
<path transform="translate(175.40,451.70)" d="M0.6,3.0 L4.2,0.4 V13.8" fill="none" stroke="#111" stroke-width="1.95" stroke-linecap="butt" stroke-linejoin="round"/>
<circle cx="178" cy="507" r="13.3" fill="#fff" stroke="#111" stroke-width="1.5"/>
<path transform="translate(173.70,499.70)" d="M0.8,3.9 C0.9,1.6 2.4,0.2 4.4,0.2 C6.6,0.2 8.0,1.7 8.0,3.7 C8.0,5.4 7.0,6.6 5.6,8.1 L0.9,12.9 H8.4" fill="none" stroke="#111" stroke-width="1.95" stroke-linecap="butt" stroke-linejoin="round"/>
<circle cx="788" cy="524" r="13.3" fill="#fff" stroke="#111" stroke-width="1.5"/>
<path transform="translate(781.90,516.70)" d="M0.6,3.0 L4.2,0.4 V13.8" fill="none" stroke="#111" stroke-width="1.95" stroke-linecap="butt" stroke-linejoin="round"/>
<path transform="translate(788.90,516.70)" d="M0.6,3.0 L4.2,0.4 V13.8" fill="none" stroke="#111" stroke-width="1.95" stroke-linecap="butt" stroke-linejoin="round"/>
<circle cx="344" cy="691" r="13.3" fill="#fff" stroke="#111" stroke-width="1.5"/>
<path transform="translate(336.00,683.70)" d="M0.6,3.0 L4.2,0.4 V13.8" fill="none" stroke="#111" stroke-width="1.95" stroke-linecap="butt" stroke-linejoin="round"/>
<path transform="translate(343.00,683.70)" d="M6.2,13.8 V0.6 L0.5,9.9 H8.9" fill="none" stroke="#111" stroke-width="1.95" stroke-linecap="butt" stroke-linejoin="round"/>
<circle cx="484" cy="691" r="13.3" fill="#fff" stroke="#111" stroke-width="1.5"/>
<path transform="translate(476.20,683.70)" d="M0.6,3.0 L4.2,0.4 V13.8" fill="none" stroke="#111" stroke-width="1.95" stroke-linecap="butt" stroke-linejoin="round"/>
<path transform="translate(483.20,683.70)" d="M0.9,0.95 H7.7 L3.6,5.7 C6.4,5.5 8.3,7.1 8.3,9.4 C8.3,12.0 6.4,13.6 4.1,13.6 C2.4,13.6 1.0,12.8 0.3,11.3" fill="none" stroke="#111" stroke-width="1.95" stroke-linecap="butt" stroke-linejoin="round"/>
<circle cx="623" cy="691" r="13.3" fill="#fff" stroke="#111" stroke-width="1.5"/>
<path transform="translate(615.20,683.70)" d="M0.6,3.0 L4.2,0.4 V13.8" fill="none" stroke="#111" stroke-width="1.95" stroke-linecap="butt" stroke-linejoin="round"/>
<path transform="translate(622.20,683.70)" d="M0.8,3.9 C0.9,1.6 2.4,0.2 4.4,0.2 C6.6,0.2 8.0,1.7 8.0,3.7 C8.0,5.4 7.0,6.6 5.6,8.1 L0.9,12.9 H8.4" fill="none" stroke="#111" stroke-width="1.95" stroke-linecap="butt" stroke-linejoin="round"/>
</svg>
</body></html>
